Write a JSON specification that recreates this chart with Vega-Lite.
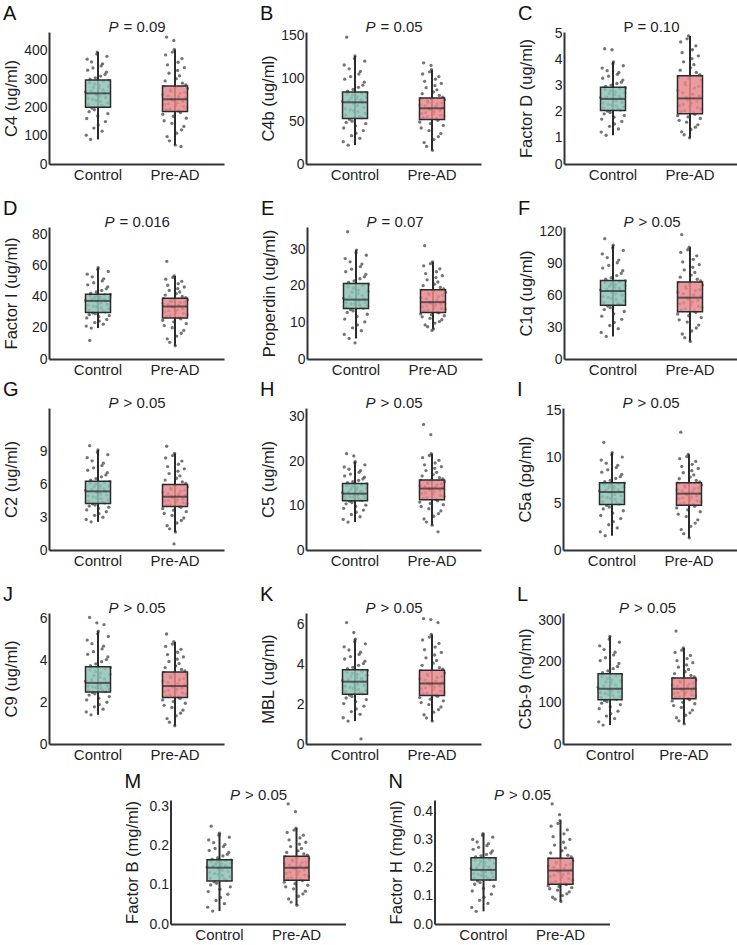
{
"$schema": "https://vega.github.io/schema/vega-lite/v6.json",
"background": "white",
"padding": {"left": 3, "top": 4, "right": 0, "bottom": 0},
"datasets": {
"box": [
{"p":"A","g":"Control","lo":87,"q1":201,"md":250,"q3":297,"hi":396},
{"p":"A","g":"Pre-AD","lo":67,"q1":186,"md":229,"q3":276,"hi":405},
{"p":"B","g":"Control","lo":22,"q1":53,"md":72,"q3":84,"hi":126},
{"p":"B","g":"Pre-AD","lo":16,"q1":52,"md":65,"q3":77,"hi":110},
{"p":"C","g":"Control","lo":1.1,"q1":2.05,"md":2.49,"q3":2.94,"hi":3.91},
{"p":"C","g":"Pre-AD","lo":1.0,"q1":1.92,"md":2.51,"q3":3.38,"hi":4.9},
{"p":"D","g":"Control","lo":19.8,"q1":29.8,"md":37.2,"q3":41.5,"hi":58.5},
{"p":"D","g":"Pre-AD","lo":8.5,"q1":26.2,"md":33.6,"q3":38.9,"hi":53.2},
{"p":"E","g":"Control","lo":5.6,"q1":13.8,"md":16.2,"q3":20.6,"hi":29.7},
{"p":"E","g":"Pre-AD","lo":8.2,"q1":12.7,"md":15.5,"q3":18.9,"hi":26.5},
{"p":"F","g":"Control","lo":21.2,"q1":50.5,"md":63.9,"q3":73.8,"hi":106.9},
{"p":"F","g":"Pre-AD","lo":16.5,"q1":44.5,"md":57.6,"q3":72.3,"hi":105},
{"p":"G","g":"Control","lo":2.58,"q1":4.25,"md":5.37,"q3":6.3,"hi":9.16},
{"p":"G","g":"Pre-AD","lo":1.65,"q1":3.98,"md":4.88,"q3":6.0,"hi":8.85},
{"p":"H","g":"Control","lo":6.3,"q1":11.1,"md":12.7,"q3":15.0,"hi":19.9},
{"p":"H","g":"Pre-AD","lo":5.6,"q1":11.3,"md":13.85,"q3":15.8,"hi":21.7},
{"p":"I","g":"Control","lo":1.54,"q1":4.9,"md":6.25,"q3":7.25,"hi":10.5},
{"p":"I","g":"Pre-AD","lo":1.32,"q1":4.82,"md":6.07,"q3":7.25,"hi":10.3},
{"p":"J","g":"Control","lo":1.39,"q1":2.48,"md":2.91,"q3":3.68,"hi":5.37},
{"p":"J","g":"Pre-AD","lo":0.87,"q1":2.21,"md":2.76,"q3":3.43,"hi":4.87},
{"p":"K","g":"Control","lo":1.15,"q1":2.5,"md":3.13,"q3":3.73,"hi":5.26},
{"p":"K","g":"Pre-AD","lo":1.15,"q1":2.43,"md":3.04,"q3":3.7,"hi":5.5},
{"p":"L","g":"Control","lo":46,"q1":108,"md":134.5,"q3":171,"hi":262},
{"p":"L","g":"Pre-AD","lo":49,"q1":110,"md":134.5,"q3":161,"hi":234},
{"p":"M","g":"Control","lo":0.033,"q1":0.11,"md":0.144,"q3":0.164,"hi":0.232},
{"p":"M","g":"Pre-AD","lo":0.048,"q1":0.112,"md":0.144,"q3":0.173,"hi":0.245},
{"p":"N","g":"Control","lo":0.045,"q1":0.156,"md":0.192,"q3":0.235,"hi":0.321},
{"p":"N","g":"Pre-AD","lo":0.08,"q1":0.141,"md":0.19,"q3":0.233,"hi":0.367}
],
"pts": [
{"p":"A","g":"Control","v":255},{"p":"A","g":"Control","v":102},{"p":"A","g":"Control","v":161},{"p":"A","g":"Control","v":371},{"p":"A","g":"Control","v":332},{"p":"A","g":"Control","v":232},{"p":"A","g":"Control","v":211},{"p":"A","g":"Control","v":185},{"p":"A","g":"Control","v":288},{"p":"A","g":"Control","v":300},{"p":"A","g":"Control","v":87},{"p":"A","g":"Control","v":259},{"p":"A","g":"Control","v":361},{"p":"A","g":"Control","v":198},{"p":"A","g":"Control","v":228},{"p":"A","g":"Control","v":340},{"p":"A","g":"Control","v":271},{"p":"A","g":"Control","v":127},{"p":"A","g":"Control","v":192},{"p":"A","g":"Control","v":283},{"p":"A","g":"Control","v":305},{"p":"A","g":"Control","v":225},{"p":"A","g":"Control","v":245},{"p":"A","g":"Control","v":389},{"p":"A","g":"Control","v":396},{"p":"A","g":"Control","v":170},{"p":"A","g":"Control","v":138},{"p":"A","g":"Control","v":267},{"p":"A","g":"Control","v":278},{"p":"A","g":"Control","v":240},{"p":"A","g":"Control","v":221},{"p":"A","g":"Control","v":311},{"p":"A","g":"Control","v":347},{"p":"A","g":"Control","v":207},{"p":"A","g":"Control","v":116},{"p":"A","g":"Control","v":354},{"p":"A","g":"Control","v":262},{"p":"A","g":"Control","v":292},{"p":"A","g":"Control","v":203},{"p":"A","g":"Control","v":250},{"p":"A","g":"Control","v":317},{"p":"A","g":"Control","v":150},{"p":"A","g":"Control","v":235},{"p":"A","g":"Control","v":325},{"p":"A","g":"Control","v":381},{"p":"A","g":"Control","v":216},{"p":"A","g":"Control","v":178},{"p":"A","g":"Control","v":275},{"p":"A","g":"Control","v":295},
{"p":"A","g":"Pre-AD","v":176},{"p":"A","g":"Pre-AD","v":246},{"p":"A","g":"Pre-AD","v":274},{"p":"A","g":"Pre-AD","v":153},{"p":"A","g":"Pre-AD","v":210},{"p":"A","g":"Pre-AD","v":294},{"p":"A","g":"Pre-AD","v":386},{"p":"A","g":"Pre-AD","v":192},{"p":"A","g":"Pre-AD","v":449},{"p":"A","g":"Pre-AD","v":97},{"p":"A","g":"Pre-AD","v":351},{"p":"A","g":"Pre-AD","v":241},{"p":"A","g":"Pre-AD","v":213},{"p":"A","g":"Pre-AD","v":321},{"p":"A","g":"Pre-AD","v":82},{"p":"A","g":"Pre-AD","v":195},{"p":"A","g":"Pre-AD","v":262},{"p":"A","g":"Pre-AD","v":257},{"p":"A","g":"Pre-AD","v":230},{"p":"A","g":"Pre-AD","v":144},{"p":"A","g":"Pre-AD","v":396},{"p":"A","g":"Pre-AD","v":225},{"p":"A","g":"Pre-AD","v":169},{"p":"A","g":"Pre-AD","v":437},{"p":"A","g":"Pre-AD","v":405},{"p":"A","g":"Pre-AD","v":271},{"p":"A","g":"Pre-AD","v":67},{"p":"A","g":"Pre-AD","v":207},{"p":"A","g":"Pre-AD","v":302},{"p":"A","g":"Pre-AD","v":109},{"p":"A","g":"Pre-AD","v":216},{"p":"A","g":"Pre-AD","v":331},{"p":"A","g":"Pre-AD","v":360},{"p":"A","g":"Pre-AD","v":238},{"p":"A","g":"Pre-AD","v":188},{"p":"A","g":"Pre-AD","v":312},{"p":"A","g":"Pre-AD","v":250},{"p":"A","g":"Pre-AD","v":182},{"p":"A","g":"Pre-AD","v":62},{"p":"A","g":"Pre-AD","v":121},{"p":"A","g":"Pre-AD","v":373},{"p":"A","g":"Pre-AD","v":286},{"p":"A","g":"Pre-AD","v":221},{"p":"A","g":"Pre-AD","v":203},{"p":"A","g":"Pre-AD","v":133},{"p":"A","g":"Pre-AD","v":341},{"p":"A","g":"Pre-AD","v":254},{"p":"A","g":"Pre-AD","v":234},{"p":"A","g":"Pre-AD","v":280},{"p":"A","g":"Pre-AD","v":162},{"p":"A","g":"Pre-AD","v":199},{"p":"A","g":"Pre-AD","v":267},
{"p":"B","g":"Control","v":73},{"p":"B","g":"Control","v":26},{"p":"B","g":"Control","v":42},{"p":"B","g":"Control","v":115.5},{"p":"B","g":"Control","v":99},{"p":"B","g":"Control","v":64.5},{"p":"B","g":"Control","v":57},{"p":"B","g":"Control","v":48.5},{"p":"B","g":"Control","v":148},{"p":"B","g":"Control","v":82},{"p":"B","g":"Control","v":85},{"p":"B","g":"Control","v":22},{"p":"B","g":"Control","v":74},{"p":"B","g":"Control","v":111},{"p":"B","g":"Control","v":52},{"p":"B","g":"Control","v":63},{"p":"B","g":"Control","v":102},{"p":"B","g":"Control","v":77},{"p":"B","g":"Control","v":33},{"p":"B","g":"Control","v":50},{"p":"B","g":"Control","v":80.5},{"p":"B","g":"Control","v":87},{"p":"B","g":"Control","v":62},{"p":"B","g":"Control","v":70},{"p":"B","g":"Control","v":123},{"p":"B","g":"Control","v":126},{"p":"B","g":"Control","v":44.5},{"p":"B","g":"Control","v":36},{"p":"B","g":"Control","v":76},{"p":"B","g":"Control","v":79},{"p":"B","g":"Control","v":68},{"p":"B","g":"Control","v":61},{"p":"B","g":"Control","v":89.5},{"p":"B","g":"Control","v":105},{"p":"B","g":"Control","v":55.5},{"p":"B","g":"Control","v":30},{"p":"B","g":"Control","v":108},{"p":"B","g":"Control","v":75},{"p":"B","g":"Control","v":82.5},{"p":"B","g":"Control","v":54},{"p":"B","g":"Control","v":71.5},{"p":"B","g":"Control","v":92},{"p":"B","g":"Control","v":39},{"p":"B","g":"Control","v":66},{"p":"B","g":"Control","v":95.5},{"p":"B","g":"Control","v":120},{"p":"B","g":"Control","v":59},{"p":"B","g":"Control","v":47},{"p":"B","g":"Control","v":78},{"p":"B","g":"Control","v":83},
{"p":"B","g":"Pre-AD","v":49},{"p":"B","g":"Pre-AD","v":69},{"p":"B","g":"Pre-AD","v":76},{"p":"B","g":"Pre-AD","v":42},{"p":"B","g":"Pre-AD","v":59},{"p":"B","g":"Pre-AD","v":82},{"p":"B","g":"Pre-AD","v":105},{"p":"B","g":"Pre-AD","v":54},{"p":"B","g":"Pre-AD","v":118},{"p":"B","g":"Pre-AD","v":25},{"p":"B","g":"Pre-AD","v":96.5},{"p":"B","g":"Pre-AD","v":68},{"p":"B","g":"Pre-AD","v":60},{"p":"B","g":"Pre-AD","v":89},{"p":"B","g":"Pre-AD","v":20.5},{"p":"B","g":"Pre-AD","v":55},{"p":"B","g":"Pre-AD","v":73.5},{"p":"B","g":"Pre-AD","v":72},{"p":"B","g":"Pre-AD","v":65},{"p":"B","g":"Pre-AD","v":39},{"p":"B","g":"Pre-AD","v":107.5},{"p":"B","g":"Pre-AD","v":64},{"p":"B","g":"Pre-AD","v":47},{"p":"B","g":"Pre-AD","v":115},{"p":"B","g":"Pre-AD","v":110},{"p":"B","g":"Pre-AD","v":75.5},{"p":"B","g":"Pre-AD","v":16},{"p":"B","g":"Pre-AD","v":58},{"p":"B","g":"Pre-AD","v":84},{"p":"B","g":"Pre-AD","v":28.5},{"p":"B","g":"Pre-AD","v":61},{"p":"B","g":"Pre-AD","v":91.5},{"p":"B","g":"Pre-AD","v":99},{"p":"B","g":"Pre-AD","v":67},{"p":"B","g":"Pre-AD","v":53},{"p":"B","g":"Pre-AD","v":86.5},{"p":"B","g":"Pre-AD","v":70},{"p":"B","g":"Pre-AD","v":51},{"p":"B","g":"Pre-AD","v":32},{"p":"B","g":"Pre-AD","v":102},{"p":"B","g":"Pre-AD","v":80},{"p":"B","g":"Pre-AD","v":62.5},{"p":"B","g":"Pre-AD","v":57},{"p":"B","g":"Pre-AD","v":35.5},{"p":"B","g":"Pre-AD","v":94},{"p":"B","g":"Pre-AD","v":71},{"p":"B","g":"Pre-AD","v":66},{"p":"B","g":"Pre-AD","v":78},{"p":"B","g":"Pre-AD","v":45},{"p":"B","g":"Pre-AD","v":56},{"p":"B","g":"Pre-AD","v":75},
{"p":"C","g":"Control","v":2.54},{"p":"C","g":"Control","v":1.22},{"p":"C","g":"Control","v":1.72},{"p":"C","g":"Control","v":3.67},{"p":"C","g":"Control","v":3.28},{"p":"C","g":"Control","v":2.33},{"p":"C","g":"Control","v":2.14},{"p":"C","g":"Control","v":1.92},{"p":"C","g":"Control","v":4.41},{"p":"C","g":"Control","v":2.85},{"p":"C","g":"Control","v":2.97},{"p":"C","g":"Control","v":1.1},{"p":"C","g":"Control","v":2.57},{"p":"C","g":"Control","v":3.57},{"p":"C","g":"Control","v":2.02},{"p":"C","g":"Control","v":2.29},{"p":"C","g":"Control","v":3.36},{"p":"C","g":"Control","v":2.69},{"p":"C","g":"Control","v":1.44},{"p":"C","g":"Control","v":1.97},{"p":"C","g":"Control","v":2.81},{"p":"C","g":"Control","v":3.02},{"p":"C","g":"Control","v":2.26},{"p":"C","g":"Control","v":4.37},{"p":"C","g":"Control","v":2.45},{"p":"C","g":"Control","v":3.84},{"p":"C","g":"Control","v":3.91},{"p":"C","g":"Control","v":1.79},{"p":"C","g":"Control","v":1.53},{"p":"C","g":"Control","v":2.65},{"p":"C","g":"Control","v":2.76},{"p":"C","g":"Control","v":2.41},{"p":"C","g":"Control","v":2.23},{"p":"C","g":"Control","v":3.08},{"p":"C","g":"Control","v":3.43},{"p":"C","g":"Control","v":2.11},{"p":"C","g":"Control","v":1.34},{"p":"C","g":"Control","v":3.5},{"p":"C","g":"Control","v":2.6},{"p":"C","g":"Control","v":2.89},{"p":"C","g":"Control","v":2.07},{"p":"C","g":"Control","v":2.5},{"p":"C","g":"Control","v":3.13},{"p":"C","g":"Control","v":1.63},{"p":"C","g":"Control","v":2.36},{"p":"C","g":"Control","v":3.21},{"p":"C","g":"Control","v":3.76},{"p":"C","g":"Control","v":2.19},{"p":"C","g":"Control","v":1.86},{"p":"C","g":"Control","v":2.73},{"p":"C","g":"Control","v":2.92},
{"p":"C","g":"Pre-AD","v":1.85},{"p":"C","g":"Pre-AD","v":2.82},{"p":"C","g":"Pre-AD","v":3.34},{"p":"C","g":"Pre-AD","v":1.67},{"p":"C","g":"Pre-AD","v":2.24},{"p":"C","g":"Pre-AD","v":3.59},{"p":"C","g":"Pre-AD","v":4.67},{"p":"C","g":"Pre-AD","v":2.0},{"p":"C","g":"Pre-AD","v":1.23},{"p":"C","g":"Pre-AD","v":4.26},{"p":"C","g":"Pre-AD","v":2.73},{"p":"C","g":"Pre-AD","v":2.29},{"p":"C","g":"Pre-AD","v":3.91},{"p":"C","g":"Pre-AD","v":1.12},{"p":"C","g":"Pre-AD","v":2.04},{"p":"C","g":"Pre-AD","v":3.12},{"p":"C","g":"Pre-AD","v":3.03},{"p":"C","g":"Pre-AD","v":2.53},{"p":"C","g":"Pre-AD","v":1.6},{"p":"C","g":"Pre-AD","v":4.79},{"p":"C","g":"Pre-AD","v":2.45},{"p":"C","g":"Pre-AD","v":1.8},{"p":"C","g":"Pre-AD","v":4.9},{"p":"C","g":"Pre-AD","v":3.28},{"p":"C","g":"Pre-AD","v":1.0},{"p":"C","g":"Pre-AD","v":2.2},{"p":"C","g":"Pre-AD","v":3.68},{"p":"C","g":"Pre-AD","v":1.32},{"p":"C","g":"Pre-AD","v":2.33},{"p":"C","g":"Pre-AD","v":4.03},{"p":"C","g":"Pre-AD","v":4.37},{"p":"C","g":"Pre-AD","v":2.67},{"p":"C","g":"Pre-AD","v":1.95},{"p":"C","g":"Pre-AD","v":3.8},{"p":"C","g":"Pre-AD","v":2.9},{"p":"C","g":"Pre-AD","v":1.9},{"p":"C","g":"Pre-AD","v":1.41},{"p":"C","g":"Pre-AD","v":4.52},{"p":"C","g":"Pre-AD","v":3.5},{"p":"C","g":"Pre-AD","v":2.39},{"p":"C","g":"Pre-AD","v":2.16},{"p":"C","g":"Pre-AD","v":1.5},{"p":"C","g":"Pre-AD","v":4.14},{"p":"C","g":"Pre-AD","v":2.97},{"p":"C","g":"Pre-AD","v":2.6},{"p":"C","g":"Pre-AD","v":3.42},{"p":"C","g":"Pre-AD","v":1.74},{"p":"C","g":"Pre-AD","v":2.1},{"p":"C","g":"Pre-AD","v":3.21},
{"p":"D","g":"Control","v":37.6},{"p":"D","g":"Control","v":21.1},{"p":"D","g":"Control","v":26.3},{"p":"D","g":"Control","v":54.3},{"p":"D","g":"Control","v":47.5},{"p":"D","g":"Control","v":34.5},{"p":"D","g":"Control","v":31.3},{"p":"D","g":"Control","v":28.4},{"p":"D","g":"Control","v":11.9},{"p":"D","g":"Control","v":40.6},{"p":"D","g":"Control","v":42.1},{"p":"D","g":"Control","v":19.8},{"p":"D","g":"Control","v":38.0},{"p":"D","g":"Control","v":52.6},{"p":"D","g":"Control","v":29.6},{"p":"D","g":"Control","v":33.9},{"p":"D","g":"Control","v":48.8},{"p":"D","g":"Control","v":39.1},{"p":"D","g":"Control","v":23.3},{"p":"D","g":"Control","v":29.0},{"p":"D","g":"Control","v":40.2},{"p":"D","g":"Control","v":42.9},{"p":"D","g":"Control","v":33.4},{"p":"D","g":"Control","v":36.5},{"p":"D","g":"Control","v":57.3},{"p":"D","g":"Control","v":58.5},{"p":"D","g":"Control","v":27.1},{"p":"D","g":"Control","v":24.3},{"p":"D","g":"Control","v":38.7},{"p":"D","g":"Control","v":39.8},{"p":"D","g":"Control","v":35.8},{"p":"D","g":"Control","v":32.8},{"p":"D","g":"Control","v":43.9},{"p":"D","g":"Control","v":50.0},{"p":"D","g":"Control","v":30.8},{"p":"D","g":"Control","v":22.3},{"p":"D","g":"Control","v":51.3},{"p":"D","g":"Control","v":38.3},{"p":"D","g":"Control","v":41.0},{"p":"D","g":"Control","v":30.2},{"p":"D","g":"Control","v":37.1},{"p":"D","g":"Control","v":44.9},{"p":"D","g":"Control","v":25.3},{"p":"D","g":"Control","v":35.0},{"p":"D","g":"Control","v":46.2},{"p":"D","g":"Control","v":56.0},{"p":"D","g":"Control","v":32.1},{"p":"D","g":"Control","v":27.8},{"p":"D","g":"Control","v":39.5},{"p":"D","g":"Control","v":41.3},
{"p":"D","g":"Pre-AD","v":24.8},{"p":"D","g":"Pre-AD","v":35.5},{"p":"D","g":"Pre-AD","v":38.6},{"p":"D","g":"Pre-AD","v":21.4},{"p":"D","g":"Pre-AD","v":30.3},{"p":"D","g":"Pre-AD","v":40.9},{"p":"D","g":"Pre-AD","v":51.1},{"p":"D","g":"Pre-AD","v":27.2},{"p":"D","g":"Pre-AD","v":62.5},{"p":"D","g":"Pre-AD","v":12.9},{"p":"D","g":"Pre-AD","v":47.2},{"p":"D","g":"Pre-AD","v":34.9},{"p":"D","g":"Pre-AD","v":30.9},{"p":"D","g":"Pre-AD","v":43.9},{"p":"D","g":"Pre-AD","v":10.7},{"p":"D","g":"Pre-AD","v":27.7},{"p":"D","g":"Pre-AD","v":37.3},{"p":"D","g":"Pre-AD","v":36.8},{"p":"D","g":"Pre-AD","v":33.5},{"p":"D","g":"Pre-AD","v":20.0},{"p":"D","g":"Pre-AD","v":52.2},{"p":"D","g":"Pre-AD","v":32.9},{"p":"D","g":"Pre-AD","v":23.8},{"p":"D","g":"Pre-AD","v":53.2},{"p":"D","g":"Pre-AD","v":38.2},{"p":"D","g":"Pre-AD","v":8.5},{"p":"D","g":"Pre-AD","v":29.8},{"p":"D","g":"Pre-AD","v":41.8},{"p":"D","g":"Pre-AD","v":14.7},{"p":"D","g":"Pre-AD","v":31.4},{"p":"D","g":"Pre-AD","v":45.0},{"p":"D","g":"Pre-AD","v":48.2},{"p":"D","g":"Pre-AD","v":34.5},{"p":"D","g":"Pre-AD","v":26.6},{"p":"D","g":"Pre-AD","v":42.9},{"p":"D","g":"Pre-AD","v":36.0},{"p":"D","g":"Pre-AD","v":25.7},{"p":"D","g":"Pre-AD","v":16.5},{"p":"D","g":"Pre-AD","v":49.7},{"p":"D","g":"Pre-AD","v":40.0},{"p":"D","g":"Pre-AD","v":32.2},{"p":"D","g":"Pre-AD","v":29.2},{"p":"D","g":"Pre-AD","v":18.3},{"p":"D","g":"Pre-AD","v":46.1},{"p":"D","g":"Pre-AD","v":36.4},{"p":"D","g":"Pre-AD","v":34.1},{"p":"D","g":"Pre-AD","v":39.3},{"p":"D","g":"Pre-AD","v":22.7},{"p":"D","g":"Pre-AD","v":28.5},{"p":"D","g":"Pre-AD","v":37.8},
{"p":"E","g":"Control","v":16.6},{"p":"E","g":"Control","v":6.7},{"p":"E","g":"Control","v":10.9},{"p":"E","g":"Control","v":27.4},{"p":"E","g":"Control","v":23.8},{"p":"E","g":"Control","v":15.3},{"p":"E","g":"Control","v":14.3},{"p":"E","g":"Control","v":12.7},{"p":"E","g":"Control","v":34.7},{"p":"E","g":"Control","v":19.7},{"p":"E","g":"Control","v":20.9},{"p":"E","g":"Control","v":5.6},{"p":"E","g":"Control","v":17.0},{"p":"E","g":"Control","v":26.5},{"p":"E","g":"Control","v":13.5},{"p":"E","g":"Control","v":15.1},{"p":"E","g":"Control","v":24.5},{"p":"E","g":"Control","v":18.2},{"p":"E","g":"Control","v":8.5},{"p":"E","g":"Control","v":13.1},{"p":"E","g":"Control","v":19.3},{"p":"E","g":"Control","v":21.3},{"p":"E","g":"Control","v":15.0},{"p":"E","g":"Control","v":4.4},{"p":"E","g":"Control","v":16.0},{"p":"E","g":"Control","v":29.0},{"p":"E","g":"Control","v":29.7},{"p":"E","g":"Control","v":11.6},{"p":"E","g":"Control","v":9.3},{"p":"E","g":"Control","v":17.8},{"p":"E","g":"Control","v":18.8},{"p":"E","g":"Control","v":15.8},{"p":"E","g":"Control","v":14.8},{"p":"E","g":"Control","v":21.9},{"p":"E","g":"Control","v":25.2},{"p":"E","g":"Control","v":14.1},{"p":"E","g":"Control","v":7.7},{"p":"E","g":"Control","v":25.9},{"p":"E","g":"Control","v":17.3},{"p":"E","g":"Control","v":20.1},{"p":"E","g":"Control","v":13.9},{"p":"E","g":"Control","v":16.3},{"p":"E","g":"Control","v":22.4},{"p":"E","g":"Control","v":10.1},{"p":"E","g":"Control","v":15.5},{"p":"E","g":"Control","v":23.1},{"p":"E","g":"Control","v":28.3},{"p":"E","g":"Control","v":14.6},{"p":"E","g":"Control","v":12.2},{"p":"E","g":"Control","v":18.5},{"p":"E","g":"Control","v":20.4},
{"p":"E","g":"Pre-AD","v":12.3},{"p":"E","g":"Pre-AD","v":16.7},{"p":"E","g":"Pre-AD","v":18.7},{"p":"E","g":"Pre-AD","v":11.5},{"p":"E","g":"Pre-AD","v":14.2},{"p":"E","g":"Pre-AD","v":20.0},{"p":"E","g":"Pre-AD","v":25.4},{"p":"E","g":"Pre-AD","v":13.1},{"p":"E","g":"Pre-AD","v":30.9},{"p":"E","g":"Pre-AD","v":9.3},{"p":"E","g":"Pre-AD","v":23.3},{"p":"E","g":"Pre-AD","v":16.4},{"p":"E","g":"Pre-AD","v":14.5},{"p":"E","g":"Pre-AD","v":21.6},{"p":"E","g":"Pre-AD","v":8.8},{"p":"E","g":"Pre-AD","v":13.3},{"p":"E","g":"Pre-AD","v":17.9},{"p":"E","g":"Pre-AD","v":17.5},{"p":"E","g":"Pre-AD","v":15.5},{"p":"E","g":"Pre-AD","v":11.1},{"p":"E","g":"Pre-AD","v":26.0},{"p":"E","g":"Pre-AD","v":15.2},{"p":"E","g":"Pre-AD","v":12.1},{"p":"E","g":"Pre-AD","v":7.8},{"p":"E","g":"Pre-AD","v":26.5},{"p":"E","g":"Pre-AD","v":18.5},{"p":"E","g":"Pre-AD","v":8.2},{"p":"E","g":"Pre-AD","v":14.0},{"p":"E","g":"Pre-AD","v":20.4},{"p":"E","g":"Pre-AD","v":9.8},{"p":"E","g":"Pre-AD","v":14.7},{"p":"E","g":"Pre-AD","v":22.2},{"p":"E","g":"Pre-AD","v":23.8},{"p":"E","g":"Pre-AD","v":16.1},{"p":"E","g":"Pre-AD","v":12.8},{"p":"E","g":"Pre-AD","v":21.0},{"p":"E","g":"Pre-AD","v":17.0},{"p":"E","g":"Pre-AD","v":12.6},{"p":"E","g":"Pre-AD","v":10.2},{"p":"E","g":"Pre-AD","v":24.6},{"p":"E","g":"Pre-AD","v":19.5},{"p":"E","g":"Pre-AD","v":15.0},{"p":"E","g":"Pre-AD","v":13.8},{"p":"E","g":"Pre-AD","v":10.7},{"p":"E","g":"Pre-AD","v":22.7},{"p":"E","g":"Pre-AD","v":17.3},{"p":"E","g":"Pre-AD","v":15.8},{"p":"E","g":"Pre-AD","v":19.1},{"p":"E","g":"Pre-AD","v":11.8},{"p":"E","g":"Pre-AD","v":13.6},{"p":"E","g":"Pre-AD","v":18.2},
{"p":"F","g":"Control","v":64.9},{"p":"F","g":"Control","v":24.9},{"p":"F","g":"Control","v":40.2},{"p":"F","g":"Control","v":98.7},{"p":"F","g":"Control","v":85.4},{"p":"F","g":"Control","v":58.9},{"p":"F","g":"Control","v":53.2},{"p":"F","g":"Control","v":46.4},{"p":"F","g":"Control","v":113},{"p":"F","g":"Control","v":71.8},{"p":"F","g":"Control","v":74.9},{"p":"F","g":"Control","v":21.2},{"p":"F","g":"Control","v":65.7},{"p":"F","g":"Control","v":95.3},{"p":"F","g":"Control","v":49.7},{"p":"F","g":"Control","v":57.9},{"p":"F","g":"Control","v":87.9},{"p":"F","g":"Control","v":68.4},{"p":"F","g":"Control","v":31.5},{"p":"F","g":"Control","v":48.2},{"p":"F","g":"Control","v":70.8},{"p":"F","g":"Control","v":76.4},{"p":"F","g":"Control","v":56.9},{"p":"F","g":"Control","v":62.6},{"p":"F","g":"Control","v":104.5},{"p":"F","g":"Control","v":106.9},{"p":"F","g":"Control","v":42.4},{"p":"F","g":"Control","v":34.4},{"p":"F","g":"Control","v":67.4},{"p":"F","g":"Control","v":69.8},{"p":"F","g":"Control","v":61.3},{"p":"F","g":"Control","v":55.9},{"p":"F","g":"Control","v":78.4},{"p":"F","g":"Control","v":90.4},{"p":"F","g":"Control","v":52.2},{"p":"F","g":"Control","v":28.5},{"p":"F","g":"Control","v":92.9},{"p":"F","g":"Control","v":66.4},{"p":"F","g":"Control","v":72.6},{"p":"F","g":"Control","v":51.2},{"p":"F","g":"Control","v":63.8},{"p":"F","g":"Control","v":80.4},{"p":"F","g":"Control","v":37.3},{"p":"F","g":"Control","v":59.9},{"p":"F","g":"Control","v":82.9},{"p":"F","g":"Control","v":102},{"p":"F","g":"Control","v":54.6},{"p":"F","g":"Control","v":44.6},{"p":"F","g":"Control","v":69.1},{"p":"F","g":"Control","v":73.3},
{"p":"F","g":"Pre-AD","v":42.3},{"p":"F","g":"Pre-AD","v":62.8},{"p":"F","g":"Pre-AD","v":71.6},{"p":"F","g":"Pre-AD","v":36.8},{"p":"F","g":"Pre-AD","v":51.7},{"p":"F","g":"Pre-AD","v":76.9},{"p":"F","g":"Pre-AD","v":100.1},{"p":"F","g":"Pre-AD","v":46.2},{"p":"F","g":"Pre-AD","v":116.8},{"p":"F","g":"Pre-AD","v":23.5},{"p":"F","g":"Pre-AD","v":91.2},{"p":"F","g":"Pre-AD","v":61.3},{"p":"F","g":"Pre-AD","v":52.7},{"p":"F","g":"Pre-AD","v":83.7},{"p":"F","g":"Pre-AD","v":20.0},{"p":"F","g":"Pre-AD","v":47.1},{"p":"F","g":"Pre-AD","v":67.9},{"p":"F","g":"Pre-AD","v":66.4},{"p":"F","g":"Pre-AD","v":57.7},{"p":"F","g":"Pre-AD","v":34.7},{"p":"F","g":"Pre-AD","v":102.6},{"p":"F","g":"Pre-AD","v":56.3},{"p":"F","g":"Pre-AD","v":40.6},{"p":"F","g":"Pre-AD","v":105},{"p":"F","g":"Pre-AD","v":70.5},{"p":"F","g":"Pre-AD","v":16.5},{"p":"F","g":"Pre-AD","v":50.7},{"p":"F","g":"Pre-AD","v":78.8},{"p":"F","g":"Pre-AD","v":26.3},{"p":"F","g":"Pre-AD","v":53.7},{"p":"F","g":"Pre-AD","v":86.2},{"p":"F","g":"Pre-AD","v":93.6},{"p":"F","g":"Pre-AD","v":60.2},{"p":"F","g":"Pre-AD","v":45.2},{"p":"F","g":"Pre-AD","v":81.3},{"p":"F","g":"Pre-AD","v":64.2},{"p":"F","g":"Pre-AD","v":43.8},{"p":"F","g":"Pre-AD","v":29.1},{"p":"F","g":"Pre-AD","v":96.9},{"p":"F","g":"Pre-AD","v":74.9},{"p":"F","g":"Pre-AD","v":55.0},{"p":"F","g":"Pre-AD","v":49.7},{"p":"F","g":"Pre-AD","v":31.9},{"p":"F","g":"Pre-AD","v":88.7},{"p":"F","g":"Pre-AD","v":65.3},{"p":"F","g":"Pre-AD","v":59.1},{"p":"F","g":"Pre-AD","v":73.3},{"p":"F","g":"Pre-AD","v":38.9},{"p":"F","g":"Pre-AD","v":48.4},{"p":"F","g":"Pre-AD","v":69.4},
{"p":"G","g":"Control","v":5.46},{"p":"G","g":"Control","v":2.79},{"p":"G","g":"Control","v":3.67},{"p":"G","g":"Control","v":8.45},{"p":"G","g":"Control","v":7.3},{"p":"G","g":"Control","v":4.95},{"p":"G","g":"Control","v":4.47},{"p":"G","g":"Control","v":4.02},{"p":"G","g":"Control","v":9.55},{"p":"G","g":"Control","v":6.11},{"p":"G","g":"Control","v":6.39},{"p":"G","g":"Control","v":2.58},{"p":"G","g":"Control","v":5.53},{"p":"G","g":"Control","v":8.16},{"p":"G","g":"Control","v":4.22},{"p":"G","g":"Control","v":4.87},{"p":"G","g":"Control","v":7.52},{"p":"G","g":"Control","v":5.79},{"p":"G","g":"Control","v":3.17},{"p":"G","g":"Control","v":4.12},{"p":"G","g":"Control","v":6.02},{"p":"G","g":"Control","v":6.53},{"p":"G","g":"Control","v":4.79},{"p":"G","g":"Control","v":5.26},{"p":"G","g":"Control","v":8.95},{"p":"G","g":"Control","v":9.16},{"p":"G","g":"Control","v":3.8},{"p":"G","g":"Control","v":3.33},{"p":"G","g":"Control","v":5.7},{"p":"G","g":"Control","v":5.93},{"p":"G","g":"Control","v":5.15},{"p":"G","g":"Control","v":4.7},{"p":"G","g":"Control","v":6.7},{"p":"G","g":"Control","v":7.73},{"p":"G","g":"Control","v":4.39},{"p":"G","g":"Control","v":3.0},{"p":"G","g":"Control","v":7.95},{"p":"G","g":"Control","v":5.6},{"p":"G","g":"Control","v":6.18},{"p":"G","g":"Control","v":4.31},{"p":"G","g":"Control","v":5.36},{"p":"G","g":"Control","v":6.87},{"p":"G","g":"Control","v":3.5},{"p":"G","g":"Control","v":5.03},{"p":"G","g":"Control","v":7.09},{"p":"G","g":"Control","v":8.73},{"p":"G","g":"Control","v":4.59},{"p":"G","g":"Control","v":3.92},{"p":"G","g":"Control","v":5.86},{"p":"G","g":"Control","v":6.25},
{"p":"G","g":"Pre-AD","v":3.79},{"p":"G","g":"Pre-AD","v":5.27},{"p":"G","g":"Pre-AD","v":5.94},{"p":"G","g":"Pre-AD","v":3.34},{"p":"G","g":"Pre-AD","v":4.48},{"p":"G","g":"Pre-AD","v":6.4},{"p":"G","g":"Pre-AD","v":8.42},{"p":"G","g":"Pre-AD","v":4.1},{"p":"G","g":"Pre-AD","v":9.5},{"p":"G","g":"Pre-AD","v":2.23},{"p":"G","g":"Pre-AD","v":7.64},{"p":"G","g":"Pre-AD","v":5.16},{"p":"G","g":"Pre-AD","v":4.55},{"p":"G","g":"Pre-AD","v":7.0},{"p":"G","g":"Pre-AD","v":1.94},{"p":"G","g":"Pre-AD","v":4.16},{"p":"G","g":"Pre-AD","v":5.67},{"p":"G","g":"Pre-AD","v":5.55},{"p":"G","g":"Pre-AD","v":4.89},{"p":"G","g":"Pre-AD","v":3.16},{"p":"G","g":"Pre-AD","v":8.64},{"p":"G","g":"Pre-AD","v":4.79},{"p":"G","g":"Pre-AD","v":3.65},{"p":"G","g":"Pre-AD","v":0.56},{"p":"G","g":"Pre-AD","v":8.85},{"p":"G","g":"Pre-AD","v":5.86},{"p":"G","g":"Pre-AD","v":1.65},{"p":"G","g":"Pre-AD","v":4.41},{"p":"G","g":"Pre-AD","v":6.57},{"p":"G","g":"Pre-AD","v":2.47},{"p":"G","g":"Pre-AD","v":4.61},{"p":"G","g":"Pre-AD","v":7.22},{"p":"G","g":"Pre-AD","v":7.85},{"p":"G","g":"Pre-AD","v":5.08},{"p":"G","g":"Pre-AD","v":4.03},{"p":"G","g":"Pre-AD","v":6.79},{"p":"G","g":"Pre-AD","v":5.38},{"p":"G","g":"Pre-AD","v":3.91},{"p":"G","g":"Pre-AD","v":2.7},{"p":"G","g":"Pre-AD","v":8.14},{"p":"G","g":"Pre-AD","v":6.23},{"p":"G","g":"Pre-AD","v":4.7},{"p":"G","g":"Pre-AD","v":4.34},{"p":"G","g":"Pre-AD","v":2.93},{"p":"G","g":"Pre-AD","v":7.43},{"p":"G","g":"Pre-AD","v":5.47},{"p":"G","g":"Pre-AD","v":4.99},{"p":"G","g":"Pre-AD","v":6.09},{"p":"G","g":"Pre-AD","v":3.51},{"p":"G","g":"Pre-AD","v":4.25},{"p":"G","g":"Pre-AD","v":5.78},
{"p":"H","g":"Control","v":12.9},{"p":"H","g":"Control","v":6.9},{"p":"H","g":"Control","v":9.4},{"p":"H","g":"Control","v":18.7},{"p":"H","g":"Control","v":16.7},{"p":"H","g":"Control","v":12.1},{"p":"H","g":"Control","v":11.4},{"p":"H","g":"Control","v":10.4},{"p":"H","g":"Control","v":21.7},{"p":"H","g":"Control","v":14.5},{"p":"H","g":"Control","v":15.2},{"p":"H","g":"Control","v":6.3},{"p":"H","g":"Control","v":13.1},{"p":"H","g":"Control","v":18.2},{"p":"H","g":"Control","v":11.0},{"p":"H","g":"Control","v":12.0},{"p":"H","g":"Control","v":17.1},{"p":"H","g":"Control","v":13.7},{"p":"H","g":"Control","v":8.0},{"p":"H","g":"Control","v":10.7},{"p":"H","g":"Control","v":14.3},{"p":"H","g":"Control","v":15.4},{"p":"H","g":"Control","v":11.9},{"p":"H","g":"Control","v":21.2},{"p":"H","g":"Control","v":12.5},{"p":"H","g":"Control","v":19.6},{"p":"H","g":"Control","v":19.9},{"p":"H","g":"Control","v":9.8},{"p":"H","g":"Control","v":8.5},{"p":"H","g":"Control","v":13.5},{"p":"H","g":"Control","v":14.1},{"p":"H","g":"Control","v":12.4},{"p":"H","g":"Control","v":11.7},{"p":"H","g":"Control","v":15.7},{"p":"H","g":"Control","v":17.5},{"p":"H","g":"Control","v":11.3},{"p":"H","g":"Control","v":7.5},{"p":"H","g":"Control","v":17.9},{"p":"H","g":"Control","v":13.3},{"p":"H","g":"Control","v":14.7},{"p":"H","g":"Control","v":11.2},{"p":"H","g":"Control","v":12.7},{"p":"H","g":"Control","v":16.0},{"p":"H","g":"Control","v":9.0},{"p":"H","g":"Control","v":12.2},{"p":"H","g":"Control","v":16.4},{"p":"H","g":"Control","v":19.2},{"p":"H","g":"Control","v":11.6},{"p":"H","g":"Control","v":10.1},{"p":"H","g":"Control","v":13.9},{"p":"H","g":"Control","v":14.9},
{"p":"H","g":"Pre-AD","v":10.8},{"p":"H","g":"Pre-AD","v":14.5},{"p":"H","g":"Pre-AD","v":15.7},{"p":"H","g":"Pre-AD","v":9.8},{"p":"H","g":"Pre-AD","v":12.7},{"p":"H","g":"Pre-AD","v":16.7},{"p":"H","g":"Pre-AD","v":20.8},{"p":"H","g":"Pre-AD","v":11.6},{"p":"H","g":"Pre-AD","v":28.3},{"p":"H","g":"Pre-AD","v":7.0},{"p":"H","g":"Pre-AD","v":19.2},{"p":"H","g":"Pre-AD","v":14.3},{"p":"H","g":"Pre-AD","v":12.9},{"p":"H","g":"Pre-AD","v":17.9},{"p":"H","g":"Pre-AD","v":6.3},{"p":"H","g":"Pre-AD","v":11.8},{"p":"H","g":"Pre-AD","v":15.2},{"p":"H","g":"Pre-AD","v":15.0},{"p":"H","g":"Pre-AD","v":13.9},{"p":"H","g":"Pre-AD","v":9.3},{"p":"H","g":"Pre-AD","v":21.3},{"p":"H","g":"Pre-AD","v":13.6},{"p":"H","g":"Pre-AD","v":10.5},{"p":"H","g":"Pre-AD","v":26.0},{"p":"H","g":"Pre-AD","v":21.7},{"p":"H","g":"Pre-AD","v":15.6},{"p":"H","g":"Pre-AD","v":5.6},{"p":"H","g":"Pre-AD","v":12.5},{"p":"H","g":"Pre-AD","v":17.0},{"p":"H","g":"Pre-AD","v":7.6},{"p":"H","g":"Pre-AD","v":13.1},{"p":"H","g":"Pre-AD","v":18.4},{"p":"H","g":"Pre-AD","v":19.6},{"p":"H","g":"Pre-AD","v":14.2},{"p":"H","g":"Pre-AD","v":11.4},{"p":"H","g":"Pre-AD","v":17.5},{"p":"H","g":"Pre-AD","v":14.7},{"p":"H","g":"Pre-AD","v":11.1},{"p":"H","g":"Pre-AD","v":4.1},{"p":"H","g":"Pre-AD","v":8.2},{"p":"H","g":"Pre-AD","v":20.2},{"p":"H","g":"Pre-AD","v":16.3},{"p":"H","g":"Pre-AD","v":13.4},{"p":"H","g":"Pre-AD","v":12.3},{"p":"H","g":"Pre-AD","v":8.8},{"p":"H","g":"Pre-AD","v":18.8},{"p":"H","g":"Pre-AD","v":14.9},{"p":"H","g":"Pre-AD","v":14.1},{"p":"H","g":"Pre-AD","v":16.0},{"p":"H","g":"Pre-AD","v":10.2},{"p":"H","g":"Pre-AD","v":12.1},{"p":"H","g":"Pre-AD","v":15.4},
{"p":"I","g":"Control","v":6.35},{"p":"I","g":"Control","v":1.96},{"p":"I","g":"Control","v":3.72},{"p":"I","g":"Control","v":9.69},{"p":"I","g":"Control","v":8.39},{"p":"I","g":"Control","v":5.75},{"p":"I","g":"Control","v":5.17},{"p":"I","g":"Control","v":4.43},{"p":"I","g":"Control","v":11.6},{"p":"I","g":"Control","v":7.05},{"p":"I","g":"Control","v":7.36},{"p":"I","g":"Control","v":1.54},{"p":"I","g":"Control","v":6.43},{"p":"I","g":"Control","v":9.36},{"p":"I","g":"Control","v":4.8},{"p":"I","g":"Control","v":5.64},{"p":"I","g":"Control","v":8.64},{"p":"I","g":"Control","v":6.7},{"p":"I","g":"Control","v":2.72},{"p":"I","g":"Control","v":4.63},{"p":"I","g":"Control","v":6.95},{"p":"I","g":"Control","v":7.51},{"p":"I","g":"Control","v":5.54},{"p":"I","g":"Control","v":6.12},{"p":"I","g":"Control","v":10.26},{"p":"I","g":"Control","v":10.5},{"p":"I","g":"Control","v":3.98},{"p":"I","g":"Control","v":3.05},{"p":"I","g":"Control","v":6.6},{"p":"I","g":"Control","v":6.85},{"p":"I","g":"Control","v":5.99},{"p":"I","g":"Control","v":5.44},{"p":"I","g":"Control","v":7.71},{"p":"I","g":"Control","v":8.88},{"p":"I","g":"Control","v":5.07},{"p":"I","g":"Control","v":2.38},{"p":"I","g":"Control","v":9.12},{"p":"I","g":"Control","v":6.5},{"p":"I","g":"Control","v":7.13},{"p":"I","g":"Control","v":4.97},{"p":"I","g":"Control","v":6.24},{"p":"I","g":"Control","v":7.9},{"p":"I","g":"Control","v":3.39},{"p":"I","g":"Control","v":5.85},{"p":"I","g":"Control","v":8.15},{"p":"I","g":"Control","v":10.01},{"p":"I","g":"Control","v":5.31},{"p":"I","g":"Control","v":4.23},{"p":"I","g":"Control","v":6.78},{"p":"I","g":"Control","v":7.2},
{"p":"I","g":"Pre-AD","v":4.54},{"p":"I","g":"Pre-AD","v":6.49},{"p":"I","g":"Pre-AD","v":7.19},{"p":"I","g":"Pre-AD","v":3.86},{"p":"I","g":"Pre-AD","v":5.51},{"p":"I","g":"Pre-AD","v":7.68},{"p":"I","g":"Pre-AD","v":9.84},{"p":"I","g":"Pre-AD","v":4.98},{"p":"I","g":"Pre-AD","v":12.7},{"p":"I","g":"Pre-AD","v":2.2},{"p":"I","g":"Pre-AD","v":9.01},{"p":"I","g":"Pre-AD","v":6.37},{"p":"I","g":"Pre-AD","v":5.61},{"p":"I","g":"Pre-AD","v":8.32},{"p":"I","g":"Pre-AD","v":1.76},{"p":"I","g":"Pre-AD","v":5.07},{"p":"I","g":"Pre-AD","v":6.9},{"p":"I","g":"Pre-AD","v":6.78},{"p":"I","g":"Pre-AD","v":6.07},{"p":"I","g":"Pre-AD","v":3.6},{"p":"I","g":"Pre-AD","v":10.07},{"p":"I","g":"Pre-AD","v":5.95},{"p":"I","g":"Pre-AD","v":4.33},{"p":"I","g":"Pre-AD","v":10.3},{"p":"I","g":"Pre-AD","v":7.1},{"p":"I","g":"Pre-AD","v":1.32},{"p":"I","g":"Pre-AD","v":5.42},{"p":"I","g":"Pre-AD","v":7.86},{"p":"I","g":"Pre-AD","v":2.55},{"p":"I","g":"Pre-AD","v":5.7},{"p":"I","g":"Pre-AD","v":8.55},{"p":"I","g":"Pre-AD","v":9.23},{"p":"I","g":"Pre-AD","v":6.28},{"p":"I","g":"Pre-AD","v":4.88},{"p":"I","g":"Pre-AD","v":8.09},{"p":"I","g":"Pre-AD","v":6.6},{"p":"I","g":"Pre-AD","v":4.71},{"p":"I","g":"Pre-AD","v":2.9},{"p":"I","g":"Pre-AD","v":9.54},{"p":"I","g":"Pre-AD","v":7.49},{"p":"I","g":"Pre-AD","v":5.83},{"p":"I","g":"Pre-AD","v":5.32},{"p":"I","g":"Pre-AD","v":3.25},{"p":"I","g":"Pre-AD","v":8.78},{"p":"I","g":"Pre-AD","v":6.69},{"p":"I","g":"Pre-AD","v":6.19},{"p":"I","g":"Pre-AD","v":7.34},{"p":"I","g":"Pre-AD","v":4.12},{"p":"I","g":"Pre-AD","v":5.2},{"p":"I","g":"Pre-AD","v":7.01},
{"p":"J","g":"Control","v":2.99},{"p":"J","g":"Control","v":1.53},{"p":"J","g":"Control","v":2.1},{"p":"J","g":"Control","v":4.95},{"p":"J","g":"Control","v":4.27},{"p":"J","g":"Control","v":2.75},{"p":"J","g":"Control","v":2.57},{"p":"J","g":"Control","v":2.33},{"p":"J","g":"Control","v":6.03},{"p":"J","g":"Control","v":3.53},{"p":"J","g":"Control","v":3.73},{"p":"J","g":"Control","v":1.39},{"p":"J","g":"Control","v":3.05},{"p":"J","g":"Control","v":4.78},{"p":"J","g":"Control","v":2.45},{"p":"J","g":"Control","v":2.72},{"p":"J","g":"Control","v":4.4},{"p":"J","g":"Control","v":3.26},{"p":"J","g":"Control","v":1.77},{"p":"J","g":"Control","v":2.39},{"p":"J","g":"Control","v":3.45},{"p":"J","g":"Control","v":3.82},{"p":"J","g":"Control","v":2.69},{"p":"J","g":"Control","v":5.77},{"p":"J","g":"Control","v":2.87},{"p":"J","g":"Control","v":5.25},{"p":"J","g":"Control","v":5.37},{"p":"J","g":"Control","v":2.18},{"p":"J","g":"Control","v":1.88},{"p":"J","g":"Control","v":3.18},{"p":"J","g":"Control","v":3.37},{"p":"J","g":"Control","v":2.83},{"p":"J","g":"Control","v":2.65},{"p":"J","g":"Control","v":3.92},{"p":"J","g":"Control","v":4.53},{"p":"J","g":"Control","v":2.54},{"p":"J","g":"Control","v":1.66},{"p":"J","g":"Control","v":4.66},{"p":"J","g":"Control","v":5.69},{"p":"J","g":"Control","v":3.1},{"p":"J","g":"Control","v":3.59},{"p":"J","g":"Control","v":2.5},{"p":"J","g":"Control","v":2.93},{"p":"J","g":"Control","v":4.02},{"p":"J","g":"Control","v":1.99},{"p":"J","g":"Control","v":2.78},{"p":"J","g":"Control","v":4.15},{"p":"J","g":"Control","v":5.12},{"p":"J","g":"Control","v":2.61},{"p":"J","g":"Control","v":2.26},{"p":"J","g":"Control","v":3.32},{"p":"J","g":"Control","v":3.64},
{"p":"J","g":"Pre-AD","v":2.1},{"p":"J","g":"Pre-AD","v":3.0},{"p":"J","g":"Pre-AD","v":3.4},{"p":"J","g":"Pre-AD","v":1.84},{"p":"J","g":"Pre-AD","v":2.51},{"p":"J","g":"Pre-AD","v":3.64},{"p":"J","g":"Pre-AD","v":4.65},{"p":"J","g":"Pre-AD","v":2.28},{"p":"J","g":"Pre-AD","v":5.24},{"p":"J","g":"Pre-AD","v":1.21},{"p":"J","g":"Pre-AD","v":4.26},{"p":"J","g":"Pre-AD","v":2.93},{"p":"J","g":"Pre-AD","v":2.56},{"p":"J","g":"Pre-AD","v":3.93},{"p":"J","g":"Pre-AD","v":1.04},{"p":"J","g":"Pre-AD","v":2.32},{"p":"J","g":"Pre-AD","v":3.23},{"p":"J","g":"Pre-AD","v":3.16},{"p":"J","g":"Pre-AD","v":2.77},{"p":"J","g":"Pre-AD","v":1.74},{"p":"J","g":"Pre-AD","v":4.76},{"p":"J","g":"Pre-AD","v":2.71},{"p":"J","g":"Pre-AD","v":2.02},{"p":"J","g":"Pre-AD","v":4.87},{"p":"J","g":"Pre-AD","v":3.35},{"p":"J","g":"Pre-AD","v":0.87},{"p":"J","g":"Pre-AD","v":2.47},{"p":"J","g":"Pre-AD","v":3.72},{"p":"J","g":"Pre-AD","v":1.34},{"p":"J","g":"Pre-AD","v":2.6},{"p":"J","g":"Pre-AD","v":4.04},{"p":"J","g":"Pre-AD","v":4.37},{"p":"J","g":"Pre-AD","v":2.88},{"p":"J","g":"Pre-AD","v":2.24},{"p":"J","g":"Pre-AD","v":3.83},{"p":"J","g":"Pre-AD","v":3.06},{"p":"J","g":"Pre-AD","v":2.17},{"p":"J","g":"Pre-AD","v":1.47},{"p":"J","g":"Pre-AD","v":4.51},{"p":"J","g":"Pre-AD","v":3.55},{"p":"J","g":"Pre-AD","v":2.66},{"p":"J","g":"Pre-AD","v":2.43},{"p":"J","g":"Pre-AD","v":1.61},{"p":"J","g":"Pre-AD","v":4.15},{"p":"J","g":"Pre-AD","v":3.11},{"p":"J","g":"Pre-AD","v":2.83},{"p":"J","g":"Pre-AD","v":3.48},{"p":"J","g":"Pre-AD","v":1.94},{"p":"J","g":"Pre-AD","v":2.38},{"p":"J","g":"Pre-AD","v":3.3},
{"p":"K","g":"Control","v":3.19},{"p":"K","g":"Control","v":1.32},{"p":"K","g":"Control","v":2.03},{"p":"K","g":"Control","v":4.88},{"p":"K","g":"Control","v":4.27},{"p":"K","g":"Control","v":2.9},{"p":"K","g":"Control","v":2.63},{"p":"K","g":"Control","v":2.31},{"p":"K","g":"Control","v":6.1},{"p":"K","g":"Control","v":3.61},{"p":"K","g":"Control","v":3.78},{"p":"K","g":"Control","v":1.15},{"p":"K","g":"Control","v":3.24},{"p":"K","g":"Control","v":4.72},{"p":"K","g":"Control","v":2.46},{"p":"K","g":"Control","v":2.85},{"p":"K","g":"Control","v":4.39},{"p":"K","g":"Control","v":3.4},{"p":"K","g":"Control","v":1.63},{"p":"K","g":"Control","v":2.39},{"p":"K","g":"Control","v":3.55},{"p":"K","g":"Control","v":3.85},{"p":"K","g":"Control","v":2.8},{"p":"K","g":"Control","v":5.6},{"p":"K","g":"Control","v":3.07},{"p":"K","g":"Control","v":5.15},{"p":"K","g":"Control","v":5.26},{"p":"K","g":"Control","v":2.13},{"p":"K","g":"Control","v":1.76},{"p":"K","g":"Control","v":3.34},{"p":"K","g":"Control","v":3.49},{"p":"K","g":"Control","v":3.01},{"p":"K","g":"Control","v":2.75},{"p":"K","g":"Control","v":3.95},{"p":"K","g":"Control","v":4.5},{"p":"K","g":"Control","v":2.58},{"p":"K","g":"Control","v":1.49},{"p":"K","g":"Control","v":4.61},{"p":"K","g":"Control","v":0.26},{"p":"K","g":"Control","v":3.28},{"p":"K","g":"Control","v":3.66},{"p":"K","g":"Control","v":2.53},{"p":"K","g":"Control","v":3.13},{"p":"K","g":"Control","v":4.04},{"p":"K","g":"Control","v":1.9},{"p":"K","g":"Control","v":2.94},{"p":"K","g":"Control","v":4.16},{"p":"K","g":"Control","v":5.03},{"p":"K","g":"Control","v":2.69},{"p":"K","g":"Control","v":2.23},{"p":"K","g":"Control","v":3.45},{"p":"K","g":"Control","v":3.7},
{"p":"K","g":"Pre-AD","v":2.33},{"p":"K","g":"Pre-AD","v":3.28},{"p":"K","g":"Pre-AD","v":3.67},{"p":"K","g":"Pre-AD","v":2.08},{"p":"K","g":"Pre-AD","v":2.77},{"p":"K","g":"Pre-AD","v":3.95},{"p":"K","g":"Pre-AD","v":5.23},{"p":"K","g":"Pre-AD","v":2.51},{"p":"K","g":"Pre-AD","v":6.3},{"p":"K","g":"Pre-AD","v":1.47},{"p":"K","g":"Pre-AD","v":4.74},{"p":"K","g":"Pre-AD","v":3.21},{"p":"K","g":"Pre-AD","v":2.82},{"p":"K","g":"Pre-AD","v":4.33},{"p":"K","g":"Pre-AD","v":1.31},{"p":"K","g":"Pre-AD","v":2.55},{"p":"K","g":"Pre-AD","v":3.51},{"p":"K","g":"Pre-AD","v":3.44},{"p":"K","g":"Pre-AD","v":3.05},{"p":"K","g":"Pre-AD","v":1.98},{"p":"K","g":"Pre-AD","v":5.37},{"p":"K","g":"Pre-AD","v":2.98},{"p":"K","g":"Pre-AD","v":2.25},{"p":"K","g":"Pre-AD","v":6.25},{"p":"K","g":"Pre-AD","v":5.5},{"p":"K","g":"Pre-AD","v":3.62},{"p":"K","g":"Pre-AD","v":1.15},{"p":"K","g":"Pre-AD","v":2.72},{"p":"K","g":"Pre-AD","v":4.06},{"p":"K","g":"Pre-AD","v":1.6},{"p":"K","g":"Pre-AD","v":2.86},{"p":"K","g":"Pre-AD","v":4.47},{"p":"K","g":"Pre-AD","v":4.87},{"p":"K","g":"Pre-AD","v":3.16},{"p":"K","g":"Pre-AD","v":2.46},{"p":"K","g":"Pre-AD","v":4.2},{"p":"K","g":"Pre-AD","v":3.34},{"p":"K","g":"Pre-AD","v":2.4},{"p":"K","g":"Pre-AD","v":6.1},{"p":"K","g":"Pre-AD","v":1.73},{"p":"K","g":"Pre-AD","v":5.05},{"p":"K","g":"Pre-AD","v":3.84},{"p":"K","g":"Pre-AD","v":2.92},{"p":"K","g":"Pre-AD","v":2.67},{"p":"K","g":"Pre-AD","v":1.86},{"p":"K","g":"Pre-AD","v":4.6},{"p":"K","g":"Pre-AD","v":3.39},{"p":"K","g":"Pre-AD","v":3.11},{"p":"K","g":"Pre-AD","v":3.76},{"p":"K","g":"Pre-AD","v":2.17},{"p":"K","g":"Pre-AD","v":2.61},{"p":"K","g":"Pre-AD","v":3.57},
{"p":"L","g":"Control","v":138},{"p":"L","g":"Control","v":54},{"p":"L","g":"Control","v":86},{"p":"L","g":"Control","v":239},{"p":"L","g":"Control","v":203},{"p":"L","g":"Control","v":125},{"p":"L","g":"Control","v":113},{"p":"L","g":"Control","v":99.5},{"p":"L","g":"Control","v":164},{"p":"L","g":"Control","v":173.5},{"p":"L","g":"Control","v":46},{"p":"L","g":"Control","v":141},{"p":"L","g":"Control","v":230},{"p":"L","g":"Control","v":106},{"p":"L","g":"Control","v":123},{"p":"L","g":"Control","v":210},{"p":"L","g":"Control","v":151},{"p":"L","g":"Control","v":68},{"p":"L","g":"Control","v":103},{"p":"L","g":"Control","v":160},{"p":"L","g":"Control","v":178},{"p":"L","g":"Control","v":121},{"p":"L","g":"Control","v":132},{"p":"L","g":"Control","v":255},{"p":"L","g":"Control","v":262},{"p":"L","g":"Control","v":91},{"p":"L","g":"Control","v":74},{"p":"L","g":"Control","v":147.5},{"p":"L","g":"Control","v":156},{"p":"L","g":"Control","v":129.5},{"p":"L","g":"Control","v":119},{"p":"L","g":"Control","v":183.5},{"p":"L","g":"Control","v":217},{"p":"L","g":"Control","v":111},{"p":"L","g":"Control","v":62},{"p":"L","g":"Control","v":223.5},{"p":"L","g":"Control","v":144},{"p":"L","g":"Control","v":166.5},{"p":"L","g":"Control","v":109},{"p":"L","g":"Control","v":135},{"p":"L","g":"Control","v":189},{"p":"L","g":"Control","v":80},{"p":"L","g":"Control","v":127},{"p":"L","g":"Control","v":196},{"p":"L","g":"Control","v":248},{"p":"L","g":"Control","v":116},{"p":"L","g":"Control","v":96},{"p":"L","g":"Control","v":153.5},{"p":"L","g":"Control","v":169},
{"p":"L","g":"Pre-AD","v":105},{"p":"L","g":"Pre-AD","v":143.5},{"p":"L","g":"Pre-AD","v":160},{"p":"L","g":"Pre-AD","v":93.5},{"p":"L","g":"Pre-AD","v":123},{"p":"L","g":"Pre-AD","v":171.5},{"p":"L","g":"Pre-AD","v":223},{"p":"L","g":"Pre-AD","v":113},{"p":"L","g":"Pre-AD","v":275},{"p":"L","g":"Pre-AD","v":64},{"p":"L","g":"Pre-AD","v":203},{"p":"L","g":"Pre-AD","v":141},{"p":"L","g":"Pre-AD","v":125},{"p":"L","g":"Pre-AD","v":187},{"p":"L","g":"Pre-AD","v":56.5},{"p":"L","g":"Pre-AD","v":115},{"p":"L","g":"Pre-AD","v":153},{"p":"L","g":"Pre-AD","v":150},{"p":"L","g":"Pre-AD","v":134.5},{"p":"L","g":"Pre-AD","v":89},{"p":"L","g":"Pre-AD","v":228.5},{"p":"L","g":"Pre-AD","v":132},{"p":"L","g":"Pre-AD","v":101.5},{"p":"L","g":"Pre-AD","v":234},{"p":"L","g":"Pre-AD","v":158},{"p":"L","g":"Pre-AD","v":49},{"p":"L","g":"Pre-AD","v":121.5},{"p":"L","g":"Pre-AD","v":176},{"p":"L","g":"Pre-AD","v":70},{"p":"L","g":"Pre-AD","v":127},{"p":"L","g":"Pre-AD","v":192.5},{"p":"L","g":"Pre-AD","v":208},{"p":"L","g":"Pre-AD","v":139},{"p":"L","g":"Pre-AD","v":111},{"p":"L","g":"Pre-AD","v":181.5},{"p":"L","g":"Pre-AD","v":146},{"p":"L","g":"Pre-AD","v":108},{"p":"L","g":"Pre-AD","v":76},{"p":"L","g":"Pre-AD","v":215.5},{"p":"L","g":"Pre-AD","v":167},{"p":"L","g":"Pre-AD","v":129.5},{"p":"L","g":"Pre-AD","v":120},{"p":"L","g":"Pre-AD","v":82.5},{"p":"L","g":"Pre-AD","v":198},{"p":"L","g":"Pre-AD","v":148},{"p":"L","g":"Pre-AD","v":137},{"p":"L","g":"Pre-AD","v":163.5},{"p":"L","g":"Pre-AD","v":98},{"p":"L","g":"Pre-AD","v":117.5},{"p":"L","g":"Pre-AD","v":156},
{"p":"M","g":"Control","v":0.146},{"p":"M","g":"Control","v":0.043},{"p":"M","g":"Control","v":0.083},{"p":"M","g":"Control","v":0.215},{"p":"M","g":"Control","v":0.188},{"p":"M","g":"Control","v":0.132},{"p":"M","g":"Control","v":0.117},{"p":"M","g":"Control","v":0.1},{"p":"M","g":"Control","v":0.25},{"p":"M","g":"Control","v":0.16},{"p":"M","g":"Control","v":0.166},{"p":"M","g":"Control","v":0.033},{"p":"M","g":"Control","v":0.148},{"p":"M","g":"Control","v":0.208},{"p":"M","g":"Control","v":0.108},{"p":"M","g":"Control","v":0.129},{"p":"M","g":"Control","v":0.193},{"p":"M","g":"Control","v":0.153},{"p":"M","g":"Control","v":0.06},{"p":"M","g":"Control","v":0.104},{"p":"M","g":"Control","v":0.158},{"p":"M","g":"Control","v":0.169},{"p":"M","g":"Control","v":0.127},{"p":"M","g":"Control","v":0.141},{"p":"M","g":"Control","v":0.227},{"p":"M","g":"Control","v":0.232},{"p":"M","g":"Control","v":0.089},{"p":"M","g":"Control","v":0.068},{"p":"M","g":"Control","v":0.151},{"p":"M","g":"Control","v":0.156},{"p":"M","g":"Control","v":0.138},{"p":"M","g":"Control","v":0.124},{"p":"M","g":"Control","v":0.174},{"p":"M","g":"Control","v":0.198},{"p":"M","g":"Control","v":0.115},{"p":"M","g":"Control","v":0.052},{"p":"M","g":"Control","v":0.203},{"p":"M","g":"Control","v":0.149},{"p":"M","g":"Control","v":0.162},{"p":"M","g":"Control","v":0.112},{"p":"M","g":"Control","v":0.144},{"p":"M","g":"Control","v":0.178},{"p":"M","g":"Control","v":0.076},{"p":"M","g":"Control","v":0.134},{"p":"M","g":"Control","v":0.183},{"p":"M","g":"Control","v":0.222},{"p":"M","g":"Control","v":0.121},{"p":"M","g":"Control","v":0.095},{"p":"M","g":"Control","v":0.155},{"p":"M","g":"Control","v":0.163},
{"p":"M","g":"Pre-AD","v":0.107},{"p":"M","g":"Pre-AD","v":0.154},{"p":"M","g":"Pre-AD","v":0.172},{"p":"M","g":"Pre-AD","v":0.095},{"p":"M","g":"Pre-AD","v":0.13},{"p":"M","g":"Pre-AD","v":0.183},{"p":"M","g":"Pre-AD","v":0.234},{"p":"M","g":"Pre-AD","v":0.116},{"p":"M","g":"Pre-AD","v":0.307},{"p":"M","g":"Pre-AD","v":0.064},{"p":"M","g":"Pre-AD","v":0.215},{"p":"M","g":"Pre-AD","v":0.151},{"p":"M","g":"Pre-AD","v":0.132},{"p":"M","g":"Pre-AD","v":0.198},{"p":"M","g":"Pre-AD","v":0.056},{"p":"M","g":"Pre-AD","v":0.118},{"p":"M","g":"Pre-AD","v":0.164},{"p":"M","g":"Pre-AD","v":0.161},{"p":"M","g":"Pre-AD","v":0.144},{"p":"M","g":"Pre-AD","v":0.09},{"p":"M","g":"Pre-AD","v":0.24},{"p":"M","g":"Pre-AD","v":0.141},{"p":"M","g":"Pre-AD","v":0.103},{"p":"M","g":"Pre-AD","v":0.287},{"p":"M","g":"Pre-AD","v":0.245},{"p":"M","g":"Pre-AD","v":0.17},{"p":"M","g":"Pre-AD","v":0.048},{"p":"M","g":"Pre-AD","v":0.128},{"p":"M","g":"Pre-AD","v":0.187},{"p":"M","g":"Pre-AD","v":0.071},{"p":"M","g":"Pre-AD","v":0.134},{"p":"M","g":"Pre-AD","v":0.204},{"p":"M","g":"Pre-AD","v":0.22},{"p":"M","g":"Pre-AD","v":0.149},{"p":"M","g":"Pre-AD","v":0.114},{"p":"M","g":"Pre-AD","v":0.193},{"p":"M","g":"Pre-AD","v":0.157},{"p":"M","g":"Pre-AD","v":0.111},{"p":"M","g":"Pre-AD","v":0.077},{"p":"M","g":"Pre-AD","v":0.227},{"p":"M","g":"Pre-AD","v":0.179},{"p":"M","g":"Pre-AD","v":0.138},{"p":"M","g":"Pre-AD","v":0.125},{"p":"M","g":"Pre-AD","v":0.084},{"p":"M","g":"Pre-AD","v":0.209},{"p":"M","g":"Pre-AD","v":0.159},{"p":"M","g":"Pre-AD","v":0.147},{"p":"M","g":"Pre-AD","v":0.176},{"p":"M","g":"Pre-AD","v":0.099},{"p":"M","g":"Pre-AD","v":0.122},{"p":"M","g":"Pre-AD","v":0.167},
{"p":"N","g":"Control","v":0.196},{"p":"N","g":"Control","v":0.059},{"p":"N","g":"Control","v":0.117},{"p":"N","g":"Control","v":0.3},{"p":"N","g":"Control","v":0.265},{"p":"N","g":"Control","v":0.179},{"p":"N","g":"Control","v":0.163},{"p":"N","g":"Control","v":0.141},{"p":"N","g":"Control","v":0.226},{"p":"N","g":"Control","v":0.238},{"p":"N","g":"Control","v":0.045},{"p":"N","g":"Control","v":0.2},{"p":"N","g":"Control","v":0.291},{"p":"N","g":"Control","v":0.153},{"p":"N","g":"Control","v":0.176},{"p":"N","g":"Control","v":0.272},{"p":"N","g":"Control","v":0.211},{"p":"N","g":"Control","v":0.084},{"p":"N","g":"Control","v":0.147},{"p":"N","g":"Control","v":0.222},{"p":"N","g":"Control","v":0.242},{"p":"N","g":"Control","v":0.173},{"p":"N","g":"Control","v":0.188},{"p":"N","g":"Control","v":0.315},{"p":"N","g":"Control","v":0.321},{"p":"N","g":"Control","v":0.126},{"p":"N","g":"Control","v":0.095},{"p":"N","g":"Control","v":0.207},{"p":"N","g":"Control","v":0.218},{"p":"N","g":"Control","v":0.185},{"p":"N","g":"Control","v":0.17},{"p":"N","g":"Control","v":0.247},{"p":"N","g":"Control","v":0.278},{"p":"N","g":"Control","v":0.161},{"p":"N","g":"Control","v":0.073},{"p":"N","g":"Control","v":0.285},{"p":"N","g":"Control","v":0.203},{"p":"N","g":"Control","v":0.23},{"p":"N","g":"Control","v":0.158},{"p":"N","g":"Control","v":0.192},{"p":"N","g":"Control","v":0.252},{"p":"N","g":"Control","v":0.106},{"p":"N","g":"Control","v":0.181},{"p":"N","g":"Control","v":0.259},{"p":"N","g":"Control","v":0.308},{"p":"N","g":"Control","v":0.167},{"p":"N","g":"Control","v":0.134},{"p":"N","g":"Control","v":0.215},{"p":"N","g":"Control","v":0.233},
{"p":"N","g":"Pre-AD","v":0.136},{"p":"N","g":"Pre-AD","v":0.205},{"p":"N","g":"Pre-AD","v":0.231},{"p":"N","g":"Pre-AD","v":0.125},{"p":"N","g":"Pre-AD","v":0.168},{"p":"N","g":"Pre-AD","v":0.252},{"p":"N","g":"Pre-AD","v":0.347},{"p":"N","g":"Pre-AD","v":0.147},{"p":"N","g":"Pre-AD","v":0.426},{"p":"N","g":"Pre-AD","v":0.095},{"p":"N","g":"Pre-AD","v":0.31},{"p":"N","g":"Pre-AD","v":0.201},{"p":"N","g":"Pre-AD","v":0.172},{"p":"N","g":"Pre-AD","v":0.28},{"p":"N","g":"Pre-AD","v":0.088},{"p":"N","g":"Pre-AD","v":0.151},{"p":"N","g":"Pre-AD","v":0.22},{"p":"N","g":"Pre-AD","v":0.216},{"p":"N","g":"Pre-AD","v":0.19},{"p":"N","g":"Pre-AD","v":0.12},{"p":"N","g":"Pre-AD","v":0.357},{"p":"N","g":"Pre-AD","v":0.185},{"p":"N","g":"Pre-AD","v":0.133},{"p":"N","g":"Pre-AD","v":0.388},{"p":"N","g":"Pre-AD","v":0.367},{"p":"N","g":"Pre-AD","v":0.228},{"p":"N","g":"Pre-AD","v":0.08},{"p":"N","g":"Pre-AD","v":0.165},{"p":"N","g":"Pre-AD","v":0.26},{"p":"N","g":"Pre-AD","v":0.101},{"p":"N","g":"Pre-AD","v":0.175},{"p":"N","g":"Pre-AD","v":0.29},{"p":"N","g":"Pre-AD","v":0.32},{"p":"N","g":"Pre-AD","v":0.198},{"p":"N","g":"Pre-AD","v":0.143},{"p":"N","g":"Pre-AD","v":0.27},{"p":"N","g":"Pre-AD","v":0.209},{"p":"N","g":"Pre-AD","v":0.14},{"p":"N","g":"Pre-AD","v":0.107},{"p":"N","g":"Pre-AD","v":0.334},{"p":"N","g":"Pre-AD","v":0.244},{"p":"N","g":"Pre-AD","v":0.18},{"p":"N","g":"Pre-AD","v":0.161},{"p":"N","g":"Pre-AD","v":0.114},{"p":"N","g":"Pre-AD","v":0.3},{"p":"N","g":"Pre-AD","v":0.213},{"p":"N","g":"Pre-AD","v":0.194},{"p":"N","g":"Pre-AD","v":0.238},{"p":"N","g":"Pre-AD","v":0.129},{"p":"N","g":"Pre-AD","v":0.156},{"p":"N","g":"Pre-AD","v":0.224}
]
},
"config": {
"font": "Liberation Sans",
"view": {"stroke": null},
"scale": {"bandPaddingInner": 0.675, "bandPaddingOuter": 0.474, "bandWithNestedOffsetPaddingInner": 0.675, "bandWithNestedOffsetPaddingOuter": 0.474},
"range": {"category": ["#8ec2b6", "#e8898d"]},
"axis": {"domainColor": "#333333", "domainWidth": 2, "ticks": false, "tickSize": 0, "grid": false, "labelColor": "#1f1f1f", "titleColor": "#1f1f1f", "labelFont": "Liberation Sans", "titleFont": "Liberation Sans", "titleFontWeight": "normal"},
"axisX": {"labelFontSize": 15, "labelAngle": 0, "labelPadding": 3},
"axisY": {"labelFontSize": 14, "labelPadding": 2, "labelOverlap": false, "tickCount": 10, "titleFontSize": 16.5, "titlePadding": 3, "minExtent": 27, "maxExtent": 27},
"title": {"font": "Liberation Sans", "fontSize": 20, "fontWeight": "normal", "color": "#111111", "anchor": "start", "frame": "bounds", "offset": -4},
"circle": {"size": 11, "color": "#474747", "opacity": 0.75},
"rule": {"color": "#2b2b2b", "strokeWidth": 2},
"bar": {"stroke": "#2b2b2b", "strokeWidth": 1.5, "fillOpacity": 0.85},
"tick": {"color": "#2b2b2b", "thickness": 2, "size": 25},
"text": {"fontSize": 15, "color": "#1f1f1f", "baseline": "alphabetic"}
},
"spacing": 17,
"vconcat": [
{"spacing": 36, "hconcat": [
{"title": "A", "width": 175, "height": 132, "resolve": {"scale": {"xOffset": "independent"}}, "layer": [
{"data": {"name": "pts"}, "transform": [{"filter": "datum.p=='A'"}, {"window": [{"op": "row_number", "as": "n"}], "groupby": ["g"]}], "mark": "circle", "encoding": {"x": {"field": "g", "type": "nominal", "title": null}, "xOffset": {"field": "n", "type": "nominal"}, "y": {"field": "v", "type": "quantitative", "scale": {"domain": [0, 467], "nice": false}, "axis": {"values": [0, 100, 200, 300, 400], "format": ".0f", "tickCount": 10, "labelOverlap": false}, "title": "C4 (ug/ml)"}}},
{"data": {"name": "box"}, "transform": [{"filter": "datum.p=='A'"}], "mark": "rule", "encoding": {"x": {"field": "g", "type": "nominal", "title": null}, "y": {"field": "lo", "type": "quantitative", "title": "C4 (ug/ml)"}, "y2": {"field": "hi"}}},
{"data": {"name": "box"}, "transform": [{"filter": "datum.p=='A'"}], "mark": "bar", "encoding": {"x": {"field": "g", "type": "nominal", "title": null}, "y": {"field": "q1", "type": "quantitative", "title": "C4 (ug/ml)"}, "y2": {"field": "q3"}, "color": {"field": "g", "type": "nominal", "legend": null}}},
{"data": {"name": "box"}, "transform": [{"filter": "datum.p=='A'"}], "mark": "tick", "encoding": {"x": {"field": "g", "type": "nominal", "title": null}, "y": {"field": "md", "type": "quantitative", "title": "C4 (ug/ml)"}}},
{"data": {"values": [{}]}, "mark": {"type": "text", "text": "P", "fontStyle": "italic", "align": "right", "dx": -18}, "encoding": {"y": {"datum": 467, "type": "quantitative", "title": "C4 (ug/ml)"}}},
{"data": {"values": [{}]}, "mark": {"type": "text", "text": "= 0.09", "align": "left", "dx": -13}, "encoding": {"y": {"datum": 467, "type": "quantitative", "title": "C4 (ug/ml)"}}}
]},
{"title": "B", "width": 175, "height": 132, "resolve": {"scale": {"xOffset": "independent"}}, "layer": [
{"data": {"name": "pts"}, "transform": [{"filter": "datum.p=='B'"}, {"window": [{"op": "row_number", "as": "n"}], "groupby": ["g"]}], "mark": "circle", "encoding": {"x": {"field": "g", "type": "nominal", "title": null}, "xOffset": {"field": "n", "type": "nominal"}, "y": {"field": "v", "type": "quantitative", "scale": {"domain": [0, 154], "nice": false}, "axis": {"values": [0, 50, 100, 150], "format": ".0f", "tickCount": 10, "labelOverlap": false}, "title": "C4b (ug/ml)"}}},
{"data": {"name": "box"}, "transform": [{"filter": "datum.p=='B'"}], "mark": "rule", "encoding": {"x": {"field": "g", "type": "nominal", "title": null}, "y": {"field": "lo", "type": "quantitative", "title": "C4b (ug/ml)"}, "y2": {"field": "hi"}}},
{"data": {"name": "box"}, "transform": [{"filter": "datum.p=='B'"}], "mark": "bar", "encoding": {"x": {"field": "g", "type": "nominal", "title": null}, "y": {"field": "q1", "type": "quantitative", "title": "C4b (ug/ml)"}, "y2": {"field": "q3"}, "color": {"field": "g", "type": "nominal", "legend": null}}},
{"data": {"name": "box"}, "transform": [{"filter": "datum.p=='B'"}], "mark": "tick", "encoding": {"x": {"field": "g", "type": "nominal", "title": null}, "y": {"field": "md", "type": "quantitative", "title": "C4b (ug/ml)"}}},
{"data": {"values": [{}]}, "mark": {"type": "text", "text": "P", "fontStyle": "italic", "align": "right", "dx": -18}, "encoding": {"y": {"datum": 154, "type": "quantitative", "title": "C4b (ug/ml)"}}},
{"data": {"values": [{}]}, "mark": {"type": "text", "text": "= 0.05", "align": "left", "dx": -13}, "encoding": {"y": {"datum": 154, "type": "quantitative", "title": "C4b (ug/ml)"}}}
]},
{"title": "C", "width": 175, "height": 132, "resolve": {"scale": {"xOffset": "independent"}}, "layer": [
{"data": {"name": "pts"}, "transform": [{"filter": "datum.p=='C'"}, {"window": [{"op": "row_number", "as": "n"}], "groupby": ["g"]}], "mark": "circle", "encoding": {"x": {"field": "g", "type": "nominal", "title": null}, "xOffset": {"field": "n", "type": "nominal"}, "y": {"field": "v", "type": "quantitative", "scale": {"domain": [0, 5.05], "nice": false}, "axis": {"values": [0, 1, 2, 3, 4, 5], "format": ".0f", "tickCount": 10, "labelOverlap": false}, "title": "Factor D (ug/ml)"}}},
{"data": {"name": "box"}, "transform": [{"filter": "datum.p=='C'"}], "mark": "rule", "encoding": {"x": {"field": "g", "type": "nominal", "title": null}, "y": {"field": "lo", "type": "quantitative", "title": "Factor D (ug/ml)"}, "y2": {"field": "hi"}}},
{"data": {"name": "box"}, "transform": [{"filter": "datum.p=='C'"}], "mark": "bar", "encoding": {"x": {"field": "g", "type": "nominal", "title": null}, "y": {"field": "q1", "type": "quantitative", "title": "Factor D (ug/ml)"}, "y2": {"field": "q3"}, "color": {"field": "g", "type": "nominal", "legend": null}}},
{"data": {"name": "box"}, "transform": [{"filter": "datum.p=='C'"}], "mark": "tick", "encoding": {"x": {"field": "g", "type": "nominal", "title": null}, "y": {"field": "md", "type": "quantitative", "title": "Factor D (ug/ml)"}}},
{"data": {"values": [{}]}, "mark": {"type": "text", "text": "P = 0.10", "align": "center"}, "encoding": {"y": {"datum": 5.05, "type": "quantitative", "title": "Factor D (ug/ml)"}}}
]}
]},
{"spacing": 3, "vconcat": [
{"spacing": 36, "hconcat": [
{"title": "D", "width": 175, "height": 132, "resolve": {"scale": {"xOffset": "independent"}}, "layer": [
{"data": {"name": "pts"}, "transform": [{"filter": "datum.p=='D'"}, {"window": [{"op": "row_number", "as": "n"}], "groupby": ["g"]}], "mark": "circle", "encoding": {"x": {"field": "g", "type": "nominal", "title": null}, "xOffset": {"field": "n", "type": "nominal"}, "y": {"field": "v", "type": "quantitative", "scale": {"domain": [0, 84.5], "nice": false}, "axis": {"values": [0, 20, 40, 60, 80], "format": ".0f", "tickCount": 10, "labelOverlap": false}, "title": "Factor I (ug/ml)"}}},
{"data": {"name": "box"}, "transform": [{"filter": "datum.p=='D'"}], "mark": "rule", "encoding": {"x": {"field": "g", "type": "nominal", "title": null}, "y": {"field": "lo", "type": "quantitative", "title": "Factor I (ug/ml)"}, "y2": {"field": "hi"}}},
{"data": {"name": "box"}, "transform": [{"filter": "datum.p=='D'"}], "mark": "bar", "encoding": {"x": {"field": "g", "type": "nominal", "title": null}, "y": {"field": "q1", "type": "quantitative", "title": "Factor I (ug/ml)"}, "y2": {"field": "q3"}, "color": {"field": "g", "type": "nominal", "legend": null}}},
{"data": {"name": "box"}, "transform": [{"filter": "datum.p=='D'"}], "mark": "tick", "encoding": {"x": {"field": "g", "type": "nominal", "title": null}, "y": {"field": "md", "type": "quantitative", "title": "Factor I (ug/ml)"}}},
{"data": {"values": [{}]}, "mark": {"type": "text", "text": "P", "fontStyle": "italic", "align": "right", "dx": -22}, "encoding": {"y": {"datum": 84.5, "type": "quantitative", "title": "Factor I (ug/ml)"}}},
{"data": {"values": [{}]}, "mark": {"type": "text", "text": "= 0.016", "align": "left", "dx": -17}, "encoding": {"y": {"datum": 84.5, "type": "quantitative", "title": "Factor I (ug/ml)"}}}
]},
{"title": "E", "width": 175, "height": 132, "resolve": {"scale": {"xOffset": "independent"}}, "layer": [
{"data": {"name": "pts"}, "transform": [{"filter": "datum.p=='E'"}, {"window": [{"op": "row_number", "as": "n"}], "groupby": ["g"]}], "mark": "circle", "encoding": {"x": {"field": "g", "type": "nominal", "title": null}, "xOffset": {"field": "n", "type": "nominal"}, "y": {"field": "v", "type": "quantitative", "scale": {"domain": [0, 36], "nice": false}, "axis": {"values": [0, 10, 20, 30], "format": ".0f", "tickCount": 10, "labelOverlap": false}, "title": "Properdin (ug/ml)"}}},
{"data": {"name": "box"}, "transform": [{"filter": "datum.p=='E'"}], "mark": "rule", "encoding": {"x": {"field": "g", "type": "nominal", "title": null}, "y": {"field": "lo", "type": "quantitative", "title": "Properdin (ug/ml)"}, "y2": {"field": "hi"}}},
{"data": {"name": "box"}, "transform": [{"filter": "datum.p=='E'"}], "mark": "bar", "encoding": {"x": {"field": "g", "type": "nominal", "title": null}, "y": {"field": "q1", "type": "quantitative", "title": "Properdin (ug/ml)"}, "y2": {"field": "q3"}, "color": {"field": "g", "type": "nominal", "legend": null}}},
{"data": {"name": "box"}, "transform": [{"filter": "datum.p=='E'"}], "mark": "tick", "encoding": {"x": {"field": "g", "type": "nominal", "title": null}, "y": {"field": "md", "type": "quantitative", "title": "Properdin (ug/ml)"}}},
{"data": {"values": [{}]}, "mark": {"type": "text", "text": "P", "fontStyle": "italic", "align": "right", "dx": -18}, "encoding": {"y": {"datum": 36, "type": "quantitative", "title": "Properdin (ug/ml)"}}},
{"data": {"values": [{}]}, "mark": {"type": "text", "text": "= 0.07", "align": "left", "dx": -13}, "encoding": {"y": {"datum": 36, "type": "quantitative", "title": "Properdin (ug/ml)"}}}
]},
{"title": "F", "width": 175, "height": 132, "resolve": {"scale": {"xOffset": "independent"}}, "layer": [
{"data": {"name": "pts"}, "transform": [{"filter": "datum.p=='F'"}, {"window": [{"op": "row_number", "as": "n"}], "groupby": ["g"]}], "mark": "circle", "encoding": {"x": {"field": "g", "type": "nominal", "title": null}, "xOffset": {"field": "n", "type": "nominal"}, "y": {"field": "v", "type": "quantitative", "scale": {"domain": [0, 124], "nice": false}, "axis": {"values": [0, 30, 60, 90, 120], "format": ".0f", "tickCount": 10, "labelOverlap": false}, "title": "C1q (ug/ml)"}}},
{"data": {"name": "box"}, "transform": [{"filter": "datum.p=='F'"}], "mark": "rule", "encoding": {"x": {"field": "g", "type": "nominal", "title": null}, "y": {"field": "lo", "type": "quantitative", "title": "C1q (ug/ml)"}, "y2": {"field": "hi"}}},
{"data": {"name": "box"}, "transform": [{"filter": "datum.p=='F'"}], "mark": "bar", "encoding": {"x": {"field": "g", "type": "nominal", "title": null}, "y": {"field": "q1", "type": "quantitative", "title": "C1q (ug/ml)"}, "y2": {"field": "q3"}, "color": {"field": "g", "type": "nominal", "legend": null}}},
{"data": {"name": "box"}, "transform": [{"filter": "datum.p=='F'"}], "mark": "tick", "encoding": {"x": {"field": "g", "type": "nominal", "title": null}, "y": {"field": "md", "type": "quantitative", "title": "C1q (ug/ml)"}}},
{"data": {"values": [{}]}, "mark": {"type": "text", "text": "P", "fontStyle": "italic", "align": "right", "dx": -18}, "encoding": {"y": {"datum": 124, "type": "quantitative", "title": "C1q (ug/ml)"}}},
{"data": {"values": [{}]}, "mark": {"type": "text", "text": "> 0.05", "align": "left", "dx": -13}, "encoding": {"y": {"datum": 124, "type": "quantitative", "title": "C1q (ug/ml)"}}}
]}
]},
{"spacing": 36, "hconcat": [
{"title": "G", "width": 175, "height": 142, "resolve": {"scale": {"xOffset": "independent"}}, "layer": [
{"data": {"name": "pts"}, "transform": [{"filter": "datum.p=='G'"}, {"window": [{"op": "row_number", "as": "n"}], "groupby": ["g"]}], "mark": "circle", "encoding": {"x": {"field": "g", "type": "nominal", "title": null}, "xOffset": {"field": "n", "type": "nominal"}, "y": {"field": "v", "type": "quantitative", "scale": {"domain": [0, 13], "nice": false}, "axis": {"values": [0, 3, 6, 9], "format": ".0f", "tickCount": 10, "labelOverlap": false}, "title": "C2 (ug/ml)"}}},
{"data": {"name": "box"}, "transform": [{"filter": "datum.p=='G'"}], "mark": "rule", "encoding": {"x": {"field": "g", "type": "nominal", "title": null}, "y": {"field": "lo", "type": "quantitative", "title": "C2 (ug/ml)"}, "y2": {"field": "hi"}}},
{"data": {"name": "box"}, "transform": [{"filter": "datum.p=='G'"}], "mark": "bar", "encoding": {"x": {"field": "g", "type": "nominal", "title": null}, "y": {"field": "q1", "type": "quantitative", "title": "C2 (ug/ml)"}, "y2": {"field": "q3"}, "color": {"field": "g", "type": "nominal", "legend": null}}},
{"data": {"name": "box"}, "transform": [{"filter": "datum.p=='G'"}], "mark": "tick", "encoding": {"x": {"field": "g", "type": "nominal", "title": null}, "y": {"field": "md", "type": "quantitative", "title": "C2 (ug/ml)"}}},
{"data": {"values": [{}]}, "mark": {"type": "text", "text": "P", "fontStyle": "italic", "align": "right", "dx": -18}, "encoding": {"y": {"datum": 13, "type": "quantitative", "title": "C2 (ug/ml)"}}},
{"data": {"values": [{}]}, "mark": {"type": "text", "text": "> 0.05", "align": "left", "dx": -13}, "encoding": {"y": {"datum": 13, "type": "quantitative", "title": "C2 (ug/ml)"}}}
]},
{"title": "H", "width": 175, "height": 142, "resolve": {"scale": {"xOffset": "independent"}}, "layer": [
{"data": {"name": "pts"}, "transform": [{"filter": "datum.p=='H'"}, {"window": [{"op": "row_number", "as": "n"}], "groupby": ["g"]}], "mark": "circle", "encoding": {"x": {"field": "g", "type": "nominal", "title": null}, "xOffset": {"field": "n", "type": "nominal"}, "y": {"field": "v", "type": "quantitative", "scale": {"domain": [0, 32], "nice": false}, "axis": {"values": [0, 10, 20, 30], "format": ".0f", "tickCount": 10, "labelOverlap": false}, "title": "C5 (ug/ml)"}}},
{"data": {"name": "box"}, "transform": [{"filter": "datum.p=='H'"}], "mark": "rule", "encoding": {"x": {"field": "g", "type": "nominal", "title": null}, "y": {"field": "lo", "type": "quantitative", "title": "C5 (ug/ml)"}, "y2": {"field": "hi"}}},
{"data": {"name": "box"}, "transform": [{"filter": "datum.p=='H'"}], "mark": "bar", "encoding": {"x": {"field": "g", "type": "nominal", "title": null}, "y": {"field": "q1", "type": "quantitative", "title": "C5 (ug/ml)"}, "y2": {"field": "q3"}, "color": {"field": "g", "type": "nominal", "legend": null}}},
{"data": {"name": "box"}, "transform": [{"filter": "datum.p=='H'"}], "mark": "tick", "encoding": {"x": {"field": "g", "type": "nominal", "title": null}, "y": {"field": "md", "type": "quantitative", "title": "C5 (ug/ml)"}}},
{"data": {"values": [{}]}, "mark": {"type": "text", "text": "P", "fontStyle": "italic", "align": "right", "dx": -18}, "encoding": {"y": {"datum": 32, "type": "quantitative", "title": "C5 (ug/ml)"}}},
{"data": {"values": [{}]}, "mark": {"type": "text", "text": "> 0.05", "align": "left", "dx": -13}, "encoding": {"y": {"datum": 32, "type": "quantitative", "title": "C5 (ug/ml)"}}}
]},
{"title": "I", "width": 175, "height": 142, "resolve": {"scale": {"xOffset": "independent"}}, "layer": [
{"data": {"name": "pts"}, "transform": [{"filter": "datum.p=='I'"}, {"window": [{"op": "row_number", "as": "n"}], "groupby": ["g"]}], "mark": "circle", "encoding": {"x": {"field": "g", "type": "nominal", "title": null}, "xOffset": {"field": "n", "type": "nominal"}, "y": {"field": "v", "type": "quantitative", "scale": {"domain": [0, 15.3], "nice": false}, "axis": {"values": [0, 5, 10, 15], "format": ".0f", "tickCount": 10, "labelOverlap": false}, "title": "C5a (pg/ml)"}}},
{"data": {"name": "box"}, "transform": [{"filter": "datum.p=='I'"}], "mark": "rule", "encoding": {"x": {"field": "g", "type": "nominal", "title": null}, "y": {"field": "lo", "type": "quantitative", "title": "C5a (pg/ml)"}, "y2": {"field": "hi"}}},
{"data": {"name": "box"}, "transform": [{"filter": "datum.p=='I'"}], "mark": "bar", "encoding": {"x": {"field": "g", "type": "nominal", "title": null}, "y": {"field": "q1", "type": "quantitative", "title": "C5a (pg/ml)"}, "y2": {"field": "q3"}, "color": {"field": "g", "type": "nominal", "legend": null}}},
{"data": {"name": "box"}, "transform": [{"filter": "datum.p=='I'"}], "mark": "tick", "encoding": {"x": {"field": "g", "type": "nominal", "title": null}, "y": {"field": "md", "type": "quantitative", "title": "C5a (pg/ml)"}}},
{"data": {"values": [{}]}, "mark": {"type": "text", "text": "P", "fontStyle": "italic", "align": "right", "dx": -18}, "encoding": {"y": {"datum": 15.3, "type": "quantitative", "title": "C5a (pg/ml)"}}},
{"data": {"values": [{}]}, "mark": {"type": "text", "text": "> 0.05", "align": "left", "dx": -13}, "encoding": {"y": {"datum": 15.3, "type": "quantitative", "title": "C5a (pg/ml)"}}}
]}
]}
]},
{"spacing": 10, "center": true, "vconcat": [
{"spacing": 36, "hconcat": [
{"title": "J", "width": 175, "height": 131, "resolve": {"scale": {"xOffset": "independent"}}, "layer": [
{"data": {"name": "pts"}, "transform": [{"filter": "datum.p=='J'"}, {"window": [{"op": "row_number", "as": "n"}], "groupby": ["g"]}], "mark": "circle", "encoding": {"x": {"field": "g", "type": "nominal", "title": null}, "xOffset": {"field": "n", "type": "nominal"}, "y": {"field": "v", "type": "quantitative", "scale": {"domain": [0, 6.24], "nice": false}, "axis": {"values": [0, 2, 4, 6], "format": ".0f", "tickCount": 10, "labelOverlap": false}, "title": "C9 (ug/ml)"}}},
{"data": {"name": "box"}, "transform": [{"filter": "datum.p=='J'"}], "mark": "rule", "encoding": {"x": {"field": "g", "type": "nominal", "title": null}, "y": {"field": "lo", "type": "quantitative", "title": "C9 (ug/ml)"}, "y2": {"field": "hi"}}},
{"data": {"name": "box"}, "transform": [{"filter": "datum.p=='J'"}], "mark": "bar", "encoding": {"x": {"field": "g", "type": "nominal", "title": null}, "y": {"field": "q1", "type": "quantitative", "title": "C9 (ug/ml)"}, "y2": {"field": "q3"}, "color": {"field": "g", "type": "nominal", "legend": null}}},
{"data": {"name": "box"}, "transform": [{"filter": "datum.p=='J'"}], "mark": "tick", "encoding": {"x": {"field": "g", "type": "nominal", "title": null}, "y": {"field": "md", "type": "quantitative", "title": "C9 (ug/ml)"}}},
{"data": {"values": [{}]}, "mark": {"type": "text", "text": "P", "fontStyle": "italic", "align": "right", "dx": -18}, "encoding": {"y": {"datum": 6.24, "type": "quantitative", "title": "C9 (ug/ml)"}}},
{"data": {"values": [{}]}, "mark": {"type": "text", "text": "> 0.05", "align": "left", "dx": -13}, "encoding": {"y": {"datum": 6.24, "type": "quantitative", "title": "C9 (ug/ml)"}}}
]},
{"title": "K", "width": 175, "height": 131, "resolve": {"scale": {"xOffset": "independent"}}, "layer": [
{"data": {"name": "pts"}, "transform": [{"filter": "datum.p=='K'"}, {"window": [{"op": "row_number", "as": "n"}], "groupby": ["g"]}], "mark": "circle", "encoding": {"x": {"field": "g", "type": "nominal", "title": null}, "xOffset": {"field": "n", "type": "nominal"}, "y": {"field": "v", "type": "quantitative", "scale": {"domain": [0, 6.58], "nice": false}, "axis": {"values": [0, 2, 4, 6], "format": ".0f", "tickCount": 10, "labelOverlap": false}, "title": "MBL (ug/ml)"}}},
{"data": {"name": "box"}, "transform": [{"filter": "datum.p=='K'"}], "mark": "rule", "encoding": {"x": {"field": "g", "type": "nominal", "title": null}, "y": {"field": "lo", "type": "quantitative", "title": "MBL (ug/ml)"}, "y2": {"field": "hi"}}},
{"data": {"name": "box"}, "transform": [{"filter": "datum.p=='K'"}], "mark": "bar", "encoding": {"x": {"field": "g", "type": "nominal", "title": null}, "y": {"field": "q1", "type": "quantitative", "title": "MBL (ug/ml)"}, "y2": {"field": "q3"}, "color": {"field": "g", "type": "nominal", "legend": null}}},
{"data": {"name": "box"}, "transform": [{"filter": "datum.p=='K'"}], "mark": "tick", "encoding": {"x": {"field": "g", "type": "nominal", "title": null}, "y": {"field": "md", "type": "quantitative", "title": "MBL (ug/ml)"}}},
{"data": {"values": [{}]}, "mark": {"type": "text", "text": "P", "fontStyle": "italic", "align": "right", "dx": -18}, "encoding": {"y": {"datum": 6.58, "type": "quantitative", "title": "MBL (ug/ml)"}}},
{"data": {"values": [{}]}, "mark": {"type": "text", "text": "> 0.05", "align": "left", "dx": -13}, "encoding": {"y": {"datum": 6.58, "type": "quantitative", "title": "MBL (ug/ml)"}}}
]},
{"title": "L", "width": 168, "height": 131, "resolve": {"scale": {"xOffset": "independent"}}, "layer": [
{"data": {"name": "pts"}, "transform": [{"filter": "datum.p=='L'"}, {"window": [{"op": "row_number", "as": "n"}], "groupby": ["g"]}], "mark": "circle", "encoding": {"x": {"field": "g", "type": "nominal", "title": null}, "xOffset": {"field": "n", "type": "nominal"}, "y": {"field": "v", "type": "quantitative", "scale": {"domain": [0, 319], "nice": false}, "axis": {"values": [0, 100, 200, 300], "format": ".0f", "tickCount": 10, "labelOverlap": false}, "title": "C5b-9 (ng/ml)"}}},
{"data": {"name": "box"}, "transform": [{"filter": "datum.p=='L'"}], "mark": "rule", "encoding": {"x": {"field": "g", "type": "nominal", "title": null}, "y": {"field": "lo", "type": "quantitative", "title": "C5b-9 (ng/ml)"}, "y2": {"field": "hi"}}},
{"data": {"name": "box"}, "transform": [{"filter": "datum.p=='L'"}], "mark": "bar", "encoding": {"x": {"field": "g", "type": "nominal", "title": null}, "y": {"field": "q1", "type": "quantitative", "title": "C5b-9 (ng/ml)"}, "y2": {"field": "q3"}, "color": {"field": "g", "type": "nominal", "legend": null}}},
{"data": {"name": "box"}, "transform": [{"filter": "datum.p=='L'"}], "mark": "tick", "encoding": {"x": {"field": "g", "type": "nominal", "title": null}, "y": {"field": "md", "type": "quantitative", "title": "C5b-9 (ng/ml)"}}},
{"data": {"values": [{}]}, "mark": {"type": "text", "text": "P", "fontStyle": "italic", "align": "right", "dx": -18}, "encoding": {"y": {"datum": 319, "type": "quantitative", "title": "C5b-9 (ng/ml)"}}},
{"data": {"values": [{}]}, "mark": {"type": "text", "text": "> 0.05", "align": "left", "dx": -13}, "encoding": {"y": {"datum": 319, "type": "quantitative", "title": "C5b-9 (ng/ml)"}}}
]}
]},
{"spacing": 42, "hconcat": [
{"title": "M", "width": 175, "height": 124, "resolve": {"scale": {"xOffset": "independent"}}, "layer": [
{"data": {"name": "pts"}, "transform": [{"filter": "datum.p=='M'"}, {"window": [{"op": "row_number", "as": "n"}], "groupby": ["g"]}], "mark": "circle", "encoding": {"x": {"field": "g", "type": "nominal", "title": null}, "xOffset": {"field": "n", "type": "nominal"}, "y": {"field": "v", "type": "quantitative", "scale": {"domain": [0, 0.317], "nice": false}, "axis": {"values": [0, 0.1, 0.2, 0.3], "format": ".1f", "tickCount": 10, "labelOverlap": false}, "title": "Factor B (mg/ml)"}}},
{"data": {"name": "box"}, "transform": [{"filter": "datum.p=='M'"}], "mark": "rule", "encoding": {"x": {"field": "g", "type": "nominal", "title": null}, "y": {"field": "lo", "type": "quantitative", "title": "Factor B (mg/ml)"}, "y2": {"field": "hi"}}},
{"data": {"name": "box"}, "transform": [{"filter": "datum.p=='M'"}], "mark": "bar", "encoding": {"x": {"field": "g", "type": "nominal", "title": null}, "y": {"field": "q1", "type": "quantitative", "title": "Factor B (mg/ml)"}, "y2": {"field": "q3"}, "color": {"field": "g", "type": "nominal", "legend": null}}},
{"data": {"name": "box"}, "transform": [{"filter": "datum.p=='M'"}], "mark": "tick", "encoding": {"x": {"field": "g", "type": "nominal", "title": null}, "y": {"field": "md", "type": "quantitative", "title": "Factor B (mg/ml)"}}},
{"data": {"values": [{}]}, "mark": {"type": "text", "text": "P", "fontStyle": "italic", "align": "right", "dx": -18}, "encoding": {"y": {"datum": 0.317, "type": "quantitative", "title": "Factor B (mg/ml)"}}},
{"data": {"values": [{}]}, "mark": {"type": "text", "text": "> 0.05", "align": "left", "dx": -13}, "encoding": {"y": {"datum": 0.317, "type": "quantitative", "title": "Factor B (mg/ml)"}}}
]},
{"title": "N", "width": 175, "height": 124, "resolve": {"scale": {"xOffset": "independent"}}, "layer": [
{"data": {"name": "pts"}, "transform": [{"filter": "datum.p=='N'"}, {"window": [{"op": "row_number", "as": "n"}], "groupby": ["g"]}], "mark": "circle", "encoding": {"x": {"field": "g", "type": "nominal", "title": null}, "xOffset": {"field": "n", "type": "nominal"}, "y": {"field": "v", "type": "quantitative", "scale": {"domain": [0, 0.44], "nice": false}, "axis": {"values": [0, 0.1, 0.2, 0.3, 0.4], "format": ".1f", "tickCount": 10, "labelOverlap": false}, "title": "Factor H (mg/ml)"}}},
{"data": {"name": "box"}, "transform": [{"filter": "datum.p=='N'"}], "mark": "rule", "encoding": {"x": {"field": "g", "type": "nominal", "title": null}, "y": {"field": "lo", "type": "quantitative", "title": "Factor H (mg/ml)"}, "y2": {"field": "hi"}}},
{"data": {"name": "box"}, "transform": [{"filter": "datum.p=='N'"}], "mark": "bar", "encoding": {"x": {"field": "g", "type": "nominal", "title": null}, "y": {"field": "q1", "type": "quantitative", "title": "Factor H (mg/ml)"}, "y2": {"field": "q3"}, "color": {"field": "g", "type": "nominal", "legend": null}}},
{"data": {"name": "box"}, "transform": [{"filter": "datum.p=='N'"}], "mark": "tick", "encoding": {"x": {"field": "g", "type": "nominal", "title": null}, "y": {"field": "md", "type": "quantitative", "title": "Factor H (mg/ml)"}}},
{"data": {"values": [{}]}, "mark": {"type": "text", "text": "P", "fontStyle": "italic", "align": "right", "dx": -18}, "encoding": {"y": {"datum": 0.44, "type": "quantitative", "title": "Factor H (mg/ml)"}}},
{"data": {"values": [{}]}, "mark": {"type": "text", "text": "> 0.05", "align": "left", "dx": -13}, "encoding": {"y": {"datum": 0.44, "type": "quantitative", "title": "Factor H (mg/ml)"}}}
]}
]}
]}
]
}
